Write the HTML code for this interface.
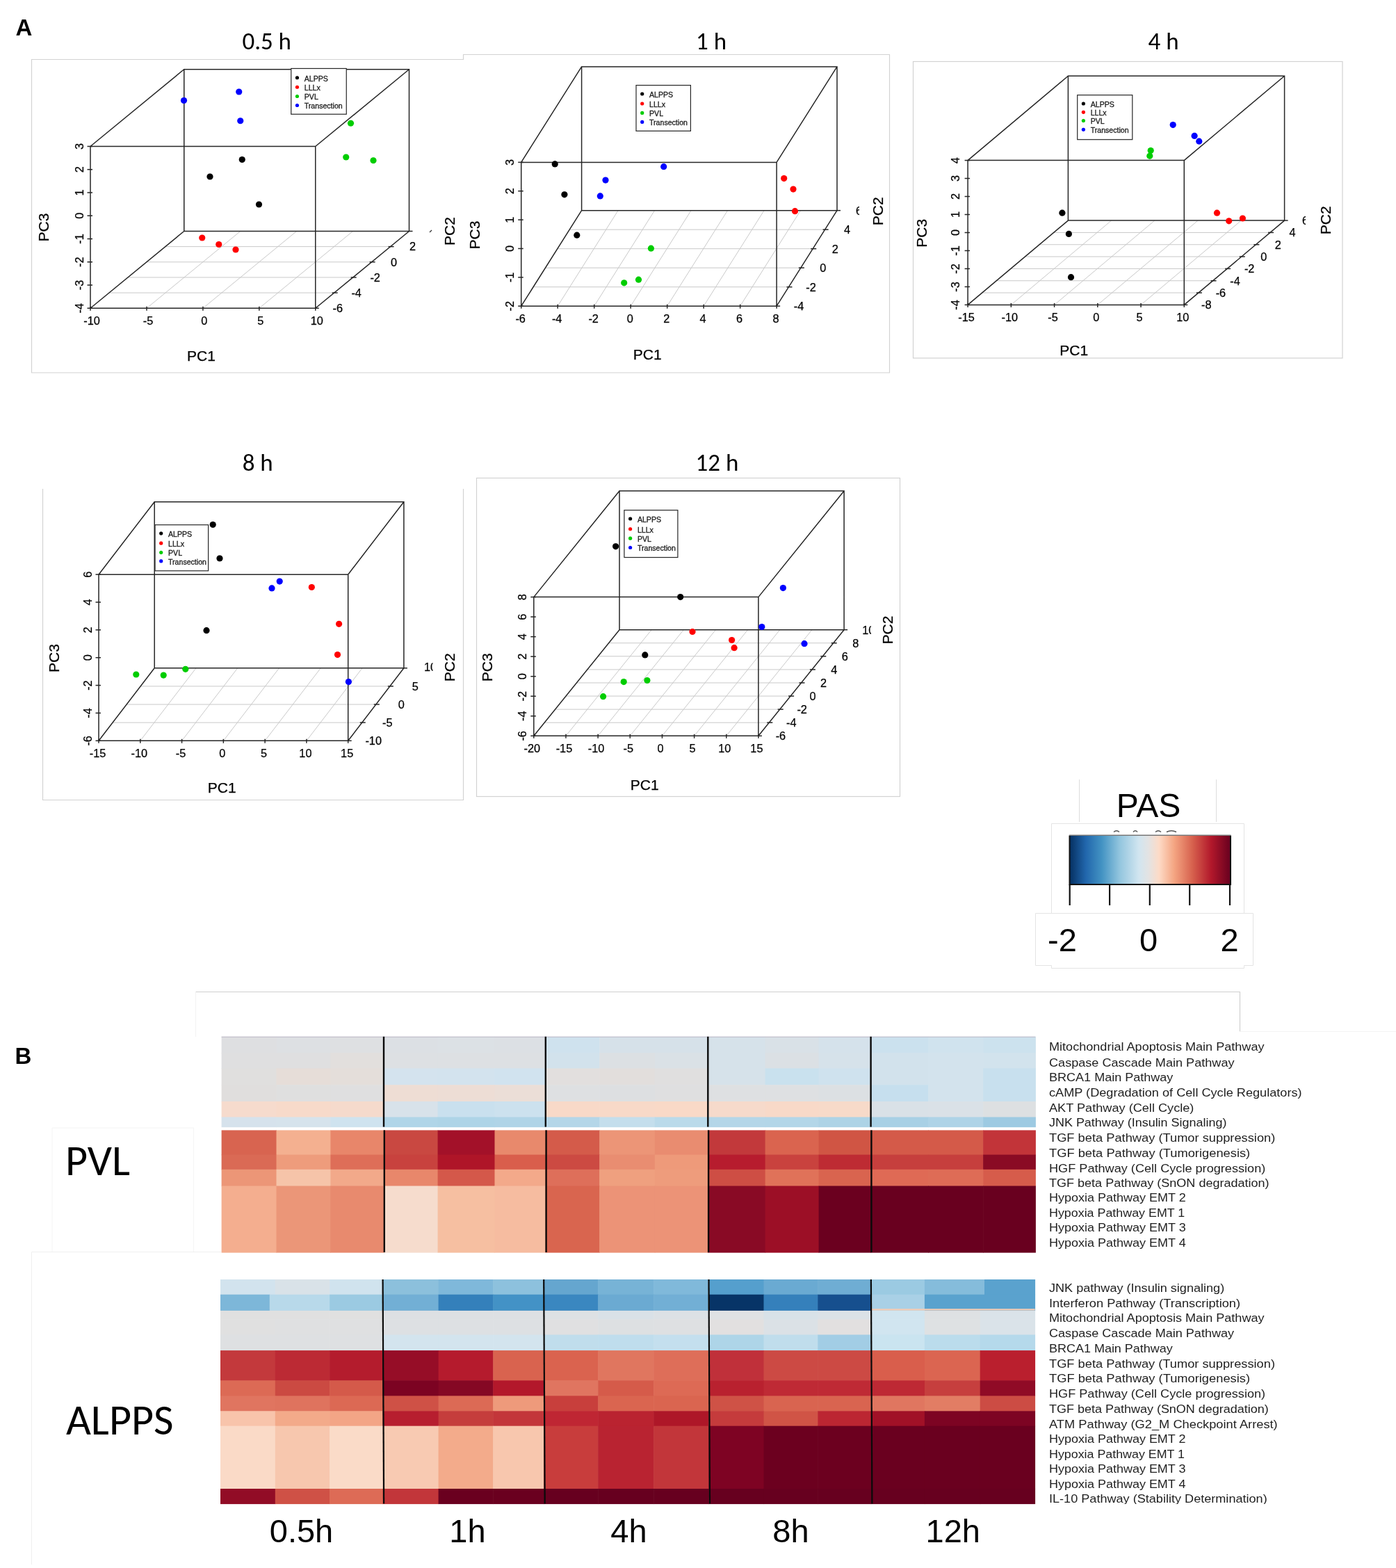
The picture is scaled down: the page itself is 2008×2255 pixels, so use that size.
<!DOCTYPE html><html><head><meta charset="utf-8"><title>Figure</title><style>html,body{margin:0;padding:0;background:#fff;overflow:hidden;}svg{display:block;}</style></head><body>
<svg width="2008" height="2255" viewBox="0 0 2008 2255">
<rect x="0" y="0" width="2008" height="2255" fill="#ffffff"/>
<path d="M45.5 536V85.5H666.5V78.5H1279.5V536Z" fill="#fff" stroke="#d2d2d2" stroke-width="1.2"/>
<rect x="1313.5" y="88.5" width="617.5" height="426.5" fill="#fff" stroke="#d2d2d2" stroke-width="1.2"/>
<path d="M61.5 703V1150.5H666.5V703" fill="#fff" stroke="#d2d2d2" stroke-width="1.2"/>
<rect x="685.5" y="687.5" width="609" height="458" fill="#fff" stroke="#d2d2d2" stroke-width="1.2"/>
<text x="348.4" y="70.5" font-size="35" font-family="Carlito, 'Liberation Sans', sans-serif" fill="#000" textLength="70.63" lengthAdjust="spacingAndGlyphs">0.5 h</text>
<text x="1001" y="70.5" font-size="35" font-family="Carlito, 'Liberation Sans', sans-serif" fill="#000" textLength="44.05" lengthAdjust="spacingAndGlyphs">1 h</text>
<text x="1651.6" y="70.5" font-size="35" font-family="Carlito, 'Liberation Sans', sans-serif" fill="#000" textLength="44.05" lengthAdjust="spacingAndGlyphs">4 h</text>
<text x="348.7" y="677.3" font-size="35" font-family="Carlito, 'Liberation Sans', sans-serif" fill="#000" textLength="44.05" lengthAdjust="spacingAndGlyphs">8 h</text>
<text x="1000.5" y="677.3" font-size="35" font-family="Carlito, 'Liberation Sans', sans-serif" fill="#000" textLength="61.78" lengthAdjust="spacingAndGlyphs">12 h</text>
<text x="22.5" y="51" font-size="33" font-family="'Liberation Sans', Arial, sans-serif" fill="#000" font-weight="bold">A</text>
<text x="21.5" y="1530" font-size="33" font-family="'Liberation Sans', Arial, sans-serif" fill="#000" font-weight="bold">B</text>
<line x1="156.95" y1="421.1" x2="480.7" y2="421.1" stroke="#c9c9c9" stroke-width="1"/>
<line x1="183.9" y1="398.95" x2="507.65" y2="398.95" stroke="#c9c9c9" stroke-width="1"/>
<line x1="210.85" y1="376.8" x2="534.6" y2="376.8" stroke="#c9c9c9" stroke-width="1"/>
<line x1="237.8" y1="354.65" x2="561.55" y2="354.65" stroke="#c9c9c9" stroke-width="1"/>
<line x1="211" y1="443.25" x2="345.75" y2="332.5" stroke="#c9c9c9" stroke-width="1"/>
<line x1="291.9" y1="443.25" x2="426.65" y2="332.5" stroke="#c9c9c9" stroke-width="1"/>
<line x1="372.8" y1="443.25" x2="507.55" y2="332.5" stroke="#c9c9c9" stroke-width="1"/>
<path d="M264.75 99.75H588.5V332.5H264.75Z M130 210.5H453.75V443.25H130Z M130 210.5L264.75 99.75 M453.75 210.5L588.5 99.75 M130 443.25L264.75 332.5 M453.75 443.25L588.5 332.5" fill="none" stroke="#262626" stroke-width="1.5"/>
<line x1="125.5" y1="210.5" x2="133" y2="210.5" stroke="#262626" stroke-width="1.5"/>
<text x="113.5" y="210.5" font-size="16.3" font-family="'Liberation Sans', Arial, sans-serif" fill="#000" text-anchor="middle" transform="rotate(-90 113.5 210.5)" dominant-baseline="central" stroke="#000" stroke-width="0.25">3</text>
<line x1="125.5" y1="243.75" x2="133" y2="243.75" stroke="#262626" stroke-width="1.5"/>
<text x="113.5" y="243.75" font-size="16.3" font-family="'Liberation Sans', Arial, sans-serif" fill="#000" text-anchor="middle" transform="rotate(-90 113.5 243.75)" dominant-baseline="central" stroke="#000" stroke-width="0.25">2</text>
<line x1="125.5" y1="277" x2="133" y2="277" stroke="#262626" stroke-width="1.5"/>
<text x="113.5" y="277" font-size="16.3" font-family="'Liberation Sans', Arial, sans-serif" fill="#000" text-anchor="middle" transform="rotate(-90 113.5 277)" dominant-baseline="central" stroke="#000" stroke-width="0.25">1</text>
<line x1="125.5" y1="310.25" x2="133" y2="310.25" stroke="#262626" stroke-width="1.5"/>
<text x="113.5" y="310.25" font-size="16.3" font-family="'Liberation Sans', Arial, sans-serif" fill="#000" text-anchor="middle" transform="rotate(-90 113.5 310.25)" dominant-baseline="central" stroke="#000" stroke-width="0.25">0</text>
<line x1="125.5" y1="343.5" x2="133" y2="343.5" stroke="#262626" stroke-width="1.5"/>
<text x="113.5" y="343.5" font-size="16.3" font-family="'Liberation Sans', Arial, sans-serif" fill="#000" text-anchor="middle" transform="rotate(-90 113.5 343.5)" dominant-baseline="central" stroke="#000" stroke-width="0.25">-1</text>
<line x1="125.5" y1="376.75" x2="133" y2="376.75" stroke="#262626" stroke-width="1.5"/>
<text x="113.5" y="376.75" font-size="16.3" font-family="'Liberation Sans', Arial, sans-serif" fill="#000" text-anchor="middle" transform="rotate(-90 113.5 376.75)" dominant-baseline="central" stroke="#000" stroke-width="0.25">-2</text>
<line x1="125.5" y1="410" x2="133" y2="410" stroke="#262626" stroke-width="1.5"/>
<text x="113.5" y="410" font-size="16.3" font-family="'Liberation Sans', Arial, sans-serif" fill="#000" text-anchor="middle" transform="rotate(-90 113.5 410)" dominant-baseline="central" stroke="#000" stroke-width="0.25">-3</text>
<line x1="125.5" y1="443.25" x2="133" y2="443.25" stroke="#262626" stroke-width="1.5"/>
<text x="113.5" y="443.25" font-size="16.3" font-family="'Liberation Sans', Arial, sans-serif" fill="#000" text-anchor="middle" transform="rotate(-90 113.5 443.25)" dominant-baseline="central" stroke="#000" stroke-width="0.25">-4</text>
<line x1="130" y1="440.75" x2="130" y2="446.75" stroke="#262626" stroke-width="1.5"/>
<text x="132" y="466.55" font-size="16.3" font-family="'Liberation Sans', Arial, sans-serif" fill="#000" text-anchor="middle" stroke="#000" stroke-width="0.25">-10</text>
<line x1="211" y1="440.75" x2="211" y2="446.75" stroke="#262626" stroke-width="1.5"/>
<text x="213" y="466.55" font-size="16.3" font-family="'Liberation Sans', Arial, sans-serif" fill="#000" text-anchor="middle" stroke="#000" stroke-width="0.25">-5</text>
<line x1="291.9" y1="440.75" x2="291.9" y2="446.75" stroke="#262626" stroke-width="1.5"/>
<text x="293.9" y="466.55" font-size="16.3" font-family="'Liberation Sans', Arial, sans-serif" fill="#000" text-anchor="middle" stroke="#000" stroke-width="0.25">0</text>
<line x1="372.8" y1="440.75" x2="372.8" y2="446.75" stroke="#262626" stroke-width="1.5"/>
<text x="374.8" y="466.55" font-size="16.3" font-family="'Liberation Sans', Arial, sans-serif" fill="#000" text-anchor="middle" stroke="#000" stroke-width="0.25">5</text>
<line x1="453.75" y1="440.75" x2="453.75" y2="446.75" stroke="#262626" stroke-width="1.5"/>
<text x="455.75" y="466.55" font-size="16.3" font-family="'Liberation Sans', Arial, sans-serif" fill="#000" text-anchor="middle" stroke="#000" stroke-width="0.25">10</text>
<line x1="453.75" y1="443.25" x2="458.75" y2="443.25" stroke="#262626" stroke-width="1.5"/>
<text x="485.75" y="449.05" font-size="16.3" font-family="'Liberation Sans', Arial, sans-serif" fill="#000" text-anchor="middle" stroke="#000" stroke-width="0.25">-6</text>
<line x1="477.7" y1="421.1" x2="485.7" y2="421.1" stroke="#262626" stroke-width="1.5"/>
<text x="512.7" y="426.9" font-size="16.3" font-family="'Liberation Sans', Arial, sans-serif" fill="#000" text-anchor="middle" stroke="#000" stroke-width="0.25">-4</text>
<line x1="504.65" y1="398.95" x2="512.65" y2="398.95" stroke="#262626" stroke-width="1.5"/>
<text x="539.65" y="404.75" font-size="16.3" font-family="'Liberation Sans', Arial, sans-serif" fill="#000" text-anchor="middle" stroke="#000" stroke-width="0.25">-2</text>
<line x1="531.6" y1="376.8" x2="539.6" y2="376.8" stroke="#262626" stroke-width="1.5"/>
<text x="566.6" y="382.6" font-size="16.3" font-family="'Liberation Sans', Arial, sans-serif" fill="#000" text-anchor="middle" stroke="#000" stroke-width="0.25">0</text>
<line x1="558.55" y1="354.65" x2="566.55" y2="354.65" stroke="#262626" stroke-width="1.5"/>
<text x="593.55" y="360.45" font-size="16.3" font-family="'Liberation Sans', Arial, sans-serif" fill="#000" text-anchor="middle" stroke="#000" stroke-width="0.25">2</text>
<line x1="588.5" y1="332.5" x2="593.5" y2="332.5" stroke="#262626" stroke-width="1.5"/>
<rect x="418.75" y="98.5" width="79.5" height="65.75" fill="#fff" stroke="#262626" stroke-width="1.2"/>
<circle cx="427.45" cy="111.75" r="2.6" fill="#000000"/>
<text x="437.75" y="116.55" font-size="10.6" font-family="'Liberation Sans', Arial, sans-serif" fill="#1a1a1a" stroke="#1a1a1a" stroke-width="0.3">ALPPS</text>
<circle cx="427.45" cy="125.25" r="2.6" fill="#FF0000"/>
<text x="437.75" y="130.05" font-size="10.6" font-family="'Liberation Sans', Arial, sans-serif" fill="#1a1a1a" stroke="#1a1a1a" stroke-width="0.3">LLLx</text>
<circle cx="427.45" cy="138.5" r="2.6" fill="#00CD00"/>
<text x="437.75" y="143.3" font-size="10.6" font-family="'Liberation Sans', Arial, sans-serif" fill="#1a1a1a" stroke="#1a1a1a" stroke-width="0.3">PVL</text>
<circle cx="427.45" cy="151.5" r="2.6" fill="#0000FF"/>
<text x="437.75" y="156.3" font-size="10.6" font-family="'Liberation Sans', Arial, sans-serif" fill="#1a1a1a" stroke="#1a1a1a" stroke-width="0.3">Transection</text>
<circle cx="264.5" cy="144.5" r="4.6" fill="#0000FF"/>
<circle cx="343.75" cy="132" r="4.6" fill="#0000FF"/>
<circle cx="345.75" cy="173.75" r="4.6" fill="#0000FF"/>
<circle cx="504.5" cy="177.25" r="4.6" fill="#00CD00"/>
<circle cx="497.75" cy="226" r="4.6" fill="#00CD00"/>
<circle cx="537" cy="230.75" r="4.6" fill="#00CD00"/>
<circle cx="348.25" cy="229.5" r="4.6" fill="#000000"/>
<circle cx="302" cy="254" r="4.6" fill="#000000"/>
<circle cx="372.5" cy="294" r="4.6" fill="#000000"/>
<circle cx="290.75" cy="342" r="4.6" fill="#FF0000"/>
<circle cx="314.75" cy="351.5" r="4.6" fill="#FF0000"/>
<circle cx="339" cy="359" r="4.6" fill="#FF0000"/>
<text x="289.4" y="518.75" font-size="21" font-family="'Liberation Sans', Arial, sans-serif" fill="#000" text-anchor="middle" stroke="#000" stroke-width="0.25">PC1</text>
<text x="646" y="332.5" font-size="21" font-family="'Liberation Sans', Arial, sans-serif" fill="#000" text-anchor="middle" transform="rotate(-90 646 332.5)" dominant-baseline="central" stroke="#000" stroke-width="0.25">PC2</text>
<text x="62.5" y="327" font-size="21" font-family="'Liberation Sans', Arial, sans-serif" fill="#000" text-anchor="middle" transform="rotate(-90 62.5 327)" dominant-baseline="central" stroke="#000" stroke-width="0.25">PC3</text>
<line x1="618" y1="334" x2="621" y2="331" stroke="#333" stroke-width="1.3"/>
<line x1="767.08" y1="412.7" x2="1134.48" y2="412.7" stroke="#c9c9c9" stroke-width="1"/>
<line x1="784.46" y1="385.2" x2="1151.86" y2="385.2" stroke="#c9c9c9" stroke-width="1"/>
<line x1="801.84" y1="357.7" x2="1169.24" y2="357.7" stroke="#c9c9c9" stroke-width="1"/>
<line x1="819.22" y1="330.2" x2="1186.62" y2="330.2" stroke="#c9c9c9" stroke-width="1"/>
<line x1="802.19" y1="440.2" x2="889.09" y2="302.7" stroke="#c9c9c9" stroke-width="1"/>
<line x1="854.68" y1="440.2" x2="941.58" y2="302.7" stroke="#c9c9c9" stroke-width="1"/>
<line x1="907.17" y1="440.2" x2="994.07" y2="302.7" stroke="#c9c9c9" stroke-width="1"/>
<line x1="959.66" y1="440.2" x2="1046.56" y2="302.7" stroke="#c9c9c9" stroke-width="1"/>
<line x1="1012.15" y1="440.2" x2="1099.05" y2="302.7" stroke="#c9c9c9" stroke-width="1"/>
<line x1="1064.64" y1="440.2" x2="1151.54" y2="302.7" stroke="#c9c9c9" stroke-width="1"/>
<path d="M836.6 95.9H1204V302.7H836.6Z M749.7 233.4H1117.1V440.2H749.7Z M749.7 233.4L836.6 95.9 M1117.1 233.4L1204 95.9 M749.7 440.2L836.6 302.7 M1117.1 440.2L1204 302.7" fill="none" stroke="#262626" stroke-width="1.5"/>
<line x1="745.2" y1="233.4" x2="752.7" y2="233.4" stroke="#262626" stroke-width="1.5"/>
<text x="732.7" y="233.4" font-size="16.3" font-family="'Liberation Sans', Arial, sans-serif" fill="#000" text-anchor="middle" transform="rotate(-90 732.7 233.4)" dominant-baseline="central" stroke="#000" stroke-width="0.25">3</text>
<line x1="745.2" y1="274.76" x2="752.7" y2="274.76" stroke="#262626" stroke-width="1.5"/>
<text x="732.7" y="274.76" font-size="16.3" font-family="'Liberation Sans', Arial, sans-serif" fill="#000" text-anchor="middle" transform="rotate(-90 732.7 274.76)" dominant-baseline="central" stroke="#000" stroke-width="0.25">2</text>
<line x1="745.2" y1="316.12" x2="752.7" y2="316.12" stroke="#262626" stroke-width="1.5"/>
<text x="732.7" y="316.12" font-size="16.3" font-family="'Liberation Sans', Arial, sans-serif" fill="#000" text-anchor="middle" transform="rotate(-90 732.7 316.12)" dominant-baseline="central" stroke="#000" stroke-width="0.25">1</text>
<line x1="745.2" y1="357.48" x2="752.7" y2="357.48" stroke="#262626" stroke-width="1.5"/>
<text x="732.7" y="357.48" font-size="16.3" font-family="'Liberation Sans', Arial, sans-serif" fill="#000" text-anchor="middle" transform="rotate(-90 732.7 357.48)" dominant-baseline="central" stroke="#000" stroke-width="0.25">0</text>
<line x1="745.2" y1="398.84" x2="752.7" y2="398.84" stroke="#262626" stroke-width="1.5"/>
<text x="732.7" y="398.84" font-size="16.3" font-family="'Liberation Sans', Arial, sans-serif" fill="#000" text-anchor="middle" transform="rotate(-90 732.7 398.84)" dominant-baseline="central" stroke="#000" stroke-width="0.25">-1</text>
<line x1="745.2" y1="440.2" x2="752.7" y2="440.2" stroke="#262626" stroke-width="1.5"/>
<text x="732.7" y="440.2" font-size="16.3" font-family="'Liberation Sans', Arial, sans-serif" fill="#000" text-anchor="middle" transform="rotate(-90 732.7 440.2)" dominant-baseline="central" stroke="#000" stroke-width="0.25">-2</text>
<line x1="749.7" y1="437.7" x2="749.7" y2="443.7" stroke="#262626" stroke-width="1.5"/>
<text x="748.7" y="463.5" font-size="16.3" font-family="'Liberation Sans', Arial, sans-serif" fill="#000" text-anchor="middle" stroke="#000" stroke-width="0.25">-6</text>
<line x1="802.19" y1="437.7" x2="802.19" y2="443.7" stroke="#262626" stroke-width="1.5"/>
<text x="801.19" y="463.5" font-size="16.3" font-family="'Liberation Sans', Arial, sans-serif" fill="#000" text-anchor="middle" stroke="#000" stroke-width="0.25">-4</text>
<line x1="854.68" y1="437.7" x2="854.68" y2="443.7" stroke="#262626" stroke-width="1.5"/>
<text x="853.68" y="463.5" font-size="16.3" font-family="'Liberation Sans', Arial, sans-serif" fill="#000" text-anchor="middle" stroke="#000" stroke-width="0.25">-2</text>
<line x1="907.17" y1="437.7" x2="907.17" y2="443.7" stroke="#262626" stroke-width="1.5"/>
<text x="906.17" y="463.5" font-size="16.3" font-family="'Liberation Sans', Arial, sans-serif" fill="#000" text-anchor="middle" stroke="#000" stroke-width="0.25">0</text>
<line x1="959.66" y1="437.7" x2="959.66" y2="443.7" stroke="#262626" stroke-width="1.5"/>
<text x="958.66" y="463.5" font-size="16.3" font-family="'Liberation Sans', Arial, sans-serif" fill="#000" text-anchor="middle" stroke="#000" stroke-width="0.25">2</text>
<line x1="1012.15" y1="437.7" x2="1012.15" y2="443.7" stroke="#262626" stroke-width="1.5"/>
<text x="1011.15" y="463.5" font-size="16.3" font-family="'Liberation Sans', Arial, sans-serif" fill="#000" text-anchor="middle" stroke="#000" stroke-width="0.25">4</text>
<line x1="1064.64" y1="437.7" x2="1064.64" y2="443.7" stroke="#262626" stroke-width="1.5"/>
<text x="1063.64" y="463.5" font-size="16.3" font-family="'Liberation Sans', Arial, sans-serif" fill="#000" text-anchor="middle" stroke="#000" stroke-width="0.25">6</text>
<line x1="1117.13" y1="437.7" x2="1117.13" y2="443.7" stroke="#262626" stroke-width="1.5"/>
<text x="1116.13" y="463.5" font-size="16.3" font-family="'Liberation Sans', Arial, sans-serif" fill="#000" text-anchor="middle" stroke="#000" stroke-width="0.25">8</text>
<line x1="1117.1" y1="440.2" x2="1122.1" y2="440.2" stroke="#262626" stroke-width="1.5"/>
<text x="1149.1" y="446" font-size="16.3" font-family="'Liberation Sans', Arial, sans-serif" fill="#000" text-anchor="middle" stroke="#000" stroke-width="0.25">-4</text>
<line x1="1131.48" y1="412.7" x2="1139.48" y2="412.7" stroke="#262626" stroke-width="1.5"/>
<text x="1166.48" y="418.5" font-size="16.3" font-family="'Liberation Sans', Arial, sans-serif" fill="#000" text-anchor="middle" stroke="#000" stroke-width="0.25">-2</text>
<line x1="1148.86" y1="385.2" x2="1156.86" y2="385.2" stroke="#262626" stroke-width="1.5"/>
<text x="1183.86" y="391" font-size="16.3" font-family="'Liberation Sans', Arial, sans-serif" fill="#000" text-anchor="middle" stroke="#000" stroke-width="0.25">0</text>
<line x1="1166.24" y1="357.7" x2="1174.24" y2="357.7" stroke="#262626" stroke-width="1.5"/>
<text x="1201.24" y="363.5" font-size="16.3" font-family="'Liberation Sans', Arial, sans-serif" fill="#000" text-anchor="middle" stroke="#000" stroke-width="0.25">2</text>
<line x1="1183.62" y1="330.2" x2="1191.62" y2="330.2" stroke="#262626" stroke-width="1.5"/>
<text x="1218.62" y="336" font-size="16.3" font-family="'Liberation Sans', Arial, sans-serif" fill="#000" text-anchor="middle" stroke="#000" stroke-width="0.25">4</text>
<line x1="1204" y1="302.7" x2="1209" y2="302.7" stroke="#262626" stroke-width="1.5"/>
<rect x="915" y="122.6" width="78.4" height="65.8" fill="#fff" stroke="#262626" stroke-width="1.2"/>
<circle cx="923.7" cy="135" r="2.6" fill="#000000"/>
<text x="934" y="139.8" font-size="10.6" font-family="'Liberation Sans', Arial, sans-serif" fill="#1a1a1a" stroke="#1a1a1a" stroke-width="0.3">ALPPS</text>
<circle cx="923.7" cy="149" r="2.6" fill="#FF0000"/>
<text x="934" y="153.8" font-size="10.6" font-family="'Liberation Sans', Arial, sans-serif" fill="#1a1a1a" stroke="#1a1a1a" stroke-width="0.3">LLLx</text>
<circle cx="923.7" cy="162.4" r="2.6" fill="#00CD00"/>
<text x="934" y="167.2" font-size="10.6" font-family="'Liberation Sans', Arial, sans-serif" fill="#1a1a1a" stroke="#1a1a1a" stroke-width="0.3">PVL</text>
<circle cx="923.7" cy="175.4" r="2.6" fill="#0000FF"/>
<text x="934" y="180.2" font-size="10.6" font-family="'Liberation Sans', Arial, sans-serif" fill="#1a1a1a" stroke="#1a1a1a" stroke-width="0.3">Transection</text>
<circle cx="798.2" cy="235.9" r="4.6" fill="#000000"/>
<circle cx="811.9" cy="279.8" r="4.6" fill="#000000"/>
<circle cx="829.8" cy="338.2" r="4.6" fill="#000000"/>
<circle cx="871" cy="259.1" r="4.6" fill="#0000FF"/>
<circle cx="863.3" cy="281.9" r="4.6" fill="#0000FF"/>
<circle cx="954.7" cy="239.7" r="4.6" fill="#0000FF"/>
<circle cx="1127.7" cy="256.6" r="4.6" fill="#FF0000"/>
<circle cx="1141" cy="272.1" r="4.6" fill="#FF0000"/>
<circle cx="1143.5" cy="303.7" r="4.6" fill="#FF0000"/>
<circle cx="936.4" cy="357.2" r="4.6" fill="#00CD00"/>
<circle cx="918.5" cy="402.2" r="4.6" fill="#00CD00"/>
<circle cx="897.7" cy="406.8" r="4.6" fill="#00CD00"/>
<text x="931.2" y="516.5" font-size="21" font-family="'Liberation Sans', Arial, sans-serif" fill="#000" text-anchor="middle" stroke="#000" stroke-width="0.25">PC1</text>
<text x="1263" y="303.7" font-size="21" font-family="'Liberation Sans', Arial, sans-serif" fill="#000" text-anchor="middle" transform="rotate(-90 1263 303.7)" dominant-baseline="central" stroke="#000" stroke-width="0.25">PC2</text>
<text x="682.8" y="338" font-size="21" font-family="'Liberation Sans', Arial, sans-serif" fill="#000" text-anchor="middle" transform="rotate(-90 682.8 338)" dominant-baseline="central" stroke="#000" stroke-width="0.25">PC3</text>
<clipPath id="c6a"><rect x="1228" y="290" width="8" height="25"/></clipPath>
<text x="1231" y="308.5" font-size="16.3" font-family="'Liberation Sans', Arial, sans-serif" fill="#000" clip-path="url(#c6a)" stroke="#000" stroke-width="0.25">6</text>
<line x1="1412.71" y1="421.07" x2="1723.91" y2="421.07" stroke="#c9c9c9" stroke-width="1"/>
<line x1="1433.33" y1="403.74" x2="1744.53" y2="403.74" stroke="#c9c9c9" stroke-width="1"/>
<line x1="1453.94" y1="386.41" x2="1765.14" y2="386.41" stroke="#c9c9c9" stroke-width="1"/>
<line x1="1474.56" y1="369.09" x2="1785.76" y2="369.09" stroke="#c9c9c9" stroke-width="1"/>
<line x1="1495.17" y1="351.76" x2="1806.37" y2="351.76" stroke="#c9c9c9" stroke-width="1"/>
<line x1="1515.79" y1="334.43" x2="1826.99" y2="334.43" stroke="#c9c9c9" stroke-width="1"/>
<line x1="1454.34" y1="438.4" x2="1598.64" y2="317.1" stroke="#c9c9c9" stroke-width="1"/>
<line x1="1516.58" y1="438.4" x2="1660.88" y2="317.1" stroke="#c9c9c9" stroke-width="1"/>
<line x1="1578.82" y1="438.4" x2="1723.12" y2="317.1" stroke="#c9c9c9" stroke-width="1"/>
<line x1="1641.06" y1="438.4" x2="1785.36" y2="317.1" stroke="#c9c9c9" stroke-width="1"/>
<path d="M1536.4 109.3H1847.6V317.1H1536.4Z M1392.1 230.6H1703.3V438.4H1392.1Z M1392.1 230.6L1536.4 109.3 M1703.3 230.6L1847.6 109.3 M1392.1 438.4L1536.4 317.1 M1703.3 438.4L1847.6 317.1" fill="none" stroke="#262626" stroke-width="1.5"/>
<line x1="1387.6" y1="230.6" x2="1395.1" y2="230.6" stroke="#262626" stroke-width="1.5"/>
<text x="1373.6" y="230.6" font-size="16.3" font-family="'Liberation Sans', Arial, sans-serif" fill="#000" text-anchor="middle" transform="rotate(-90 1373.6 230.6)" dominant-baseline="central" stroke="#000" stroke-width="0.25">4</text>
<line x1="1387.6" y1="256.57" x2="1395.1" y2="256.57" stroke="#262626" stroke-width="1.5"/>
<text x="1373.6" y="256.57" font-size="16.3" font-family="'Liberation Sans', Arial, sans-serif" fill="#000" text-anchor="middle" transform="rotate(-90 1373.6 256.57)" dominant-baseline="central" stroke="#000" stroke-width="0.25">3</text>
<line x1="1387.6" y1="282.55" x2="1395.1" y2="282.55" stroke="#262626" stroke-width="1.5"/>
<text x="1373.6" y="282.55" font-size="16.3" font-family="'Liberation Sans', Arial, sans-serif" fill="#000" text-anchor="middle" transform="rotate(-90 1373.6 282.55)" dominant-baseline="central" stroke="#000" stroke-width="0.25">2</text>
<line x1="1387.6" y1="308.52" x2="1395.1" y2="308.52" stroke="#262626" stroke-width="1.5"/>
<text x="1373.6" y="308.52" font-size="16.3" font-family="'Liberation Sans', Arial, sans-serif" fill="#000" text-anchor="middle" transform="rotate(-90 1373.6 308.52)" dominant-baseline="central" stroke="#000" stroke-width="0.25">1</text>
<line x1="1387.6" y1="334.5" x2="1395.1" y2="334.5" stroke="#262626" stroke-width="1.5"/>
<text x="1373.6" y="334.5" font-size="16.3" font-family="'Liberation Sans', Arial, sans-serif" fill="#000" text-anchor="middle" transform="rotate(-90 1373.6 334.5)" dominant-baseline="central" stroke="#000" stroke-width="0.25">0</text>
<line x1="1387.6" y1="360.48" x2="1395.1" y2="360.48" stroke="#262626" stroke-width="1.5"/>
<text x="1373.6" y="360.48" font-size="16.3" font-family="'Liberation Sans', Arial, sans-serif" fill="#000" text-anchor="middle" transform="rotate(-90 1373.6 360.48)" dominant-baseline="central" stroke="#000" stroke-width="0.25">-1</text>
<line x1="1387.6" y1="386.45" x2="1395.1" y2="386.45" stroke="#262626" stroke-width="1.5"/>
<text x="1373.6" y="386.45" font-size="16.3" font-family="'Liberation Sans', Arial, sans-serif" fill="#000" text-anchor="middle" transform="rotate(-90 1373.6 386.45)" dominant-baseline="central" stroke="#000" stroke-width="0.25">-2</text>
<line x1="1387.6" y1="412.43" x2="1395.1" y2="412.43" stroke="#262626" stroke-width="1.5"/>
<text x="1373.6" y="412.43" font-size="16.3" font-family="'Liberation Sans', Arial, sans-serif" fill="#000" text-anchor="middle" transform="rotate(-90 1373.6 412.43)" dominant-baseline="central" stroke="#000" stroke-width="0.25">-3</text>
<line x1="1387.6" y1="438.4" x2="1395.1" y2="438.4" stroke="#262626" stroke-width="1.5"/>
<text x="1373.6" y="438.4" font-size="16.3" font-family="'Liberation Sans', Arial, sans-serif" fill="#000" text-anchor="middle" transform="rotate(-90 1373.6 438.4)" dominant-baseline="central" stroke="#000" stroke-width="0.25">-4</text>
<line x1="1392.1" y1="435.9" x2="1392.1" y2="441.9" stroke="#262626" stroke-width="1.5"/>
<text x="1390.1" y="461.7" font-size="16.3" font-family="'Liberation Sans', Arial, sans-serif" fill="#000" text-anchor="middle" stroke="#000" stroke-width="0.25">-15</text>
<line x1="1454.34" y1="435.9" x2="1454.34" y2="441.9" stroke="#262626" stroke-width="1.5"/>
<text x="1452.34" y="461.7" font-size="16.3" font-family="'Liberation Sans', Arial, sans-serif" fill="#000" text-anchor="middle" stroke="#000" stroke-width="0.25">-10</text>
<line x1="1516.58" y1="435.9" x2="1516.58" y2="441.9" stroke="#262626" stroke-width="1.5"/>
<text x="1514.58" y="461.7" font-size="16.3" font-family="'Liberation Sans', Arial, sans-serif" fill="#000" text-anchor="middle" stroke="#000" stroke-width="0.25">-5</text>
<line x1="1578.82" y1="435.9" x2="1578.82" y2="441.9" stroke="#262626" stroke-width="1.5"/>
<text x="1576.82" y="461.7" font-size="16.3" font-family="'Liberation Sans', Arial, sans-serif" fill="#000" text-anchor="middle" stroke="#000" stroke-width="0.25">0</text>
<line x1="1641.06" y1="435.9" x2="1641.06" y2="441.9" stroke="#262626" stroke-width="1.5"/>
<text x="1639.06" y="461.7" font-size="16.3" font-family="'Liberation Sans', Arial, sans-serif" fill="#000" text-anchor="middle" stroke="#000" stroke-width="0.25">5</text>
<line x1="1703.3" y1="435.9" x2="1703.3" y2="441.9" stroke="#262626" stroke-width="1.5"/>
<text x="1701.3" y="461.7" font-size="16.3" font-family="'Liberation Sans', Arial, sans-serif" fill="#000" text-anchor="middle" stroke="#000" stroke-width="0.25">10</text>
<line x1="1703.3" y1="438.4" x2="1708.3" y2="438.4" stroke="#262626" stroke-width="1.5"/>
<text x="1735.3" y="444.2" font-size="16.3" font-family="'Liberation Sans', Arial, sans-serif" fill="#000" text-anchor="middle" stroke="#000" stroke-width="0.25">-8</text>
<line x1="1720.91" y1="421.07" x2="1728.91" y2="421.07" stroke="#262626" stroke-width="1.5"/>
<text x="1755.91" y="426.87" font-size="16.3" font-family="'Liberation Sans', Arial, sans-serif" fill="#000" text-anchor="middle" stroke="#000" stroke-width="0.25">-6</text>
<line x1="1741.53" y1="403.74" x2="1749.53" y2="403.74" stroke="#262626" stroke-width="1.5"/>
<text x="1776.53" y="409.54" font-size="16.3" font-family="'Liberation Sans', Arial, sans-serif" fill="#000" text-anchor="middle" stroke="#000" stroke-width="0.25">-4</text>
<line x1="1762.14" y1="386.41" x2="1770.14" y2="386.41" stroke="#262626" stroke-width="1.5"/>
<text x="1797.14" y="392.21" font-size="16.3" font-family="'Liberation Sans', Arial, sans-serif" fill="#000" text-anchor="middle" stroke="#000" stroke-width="0.25">-2</text>
<line x1="1782.76" y1="369.09" x2="1790.76" y2="369.09" stroke="#262626" stroke-width="1.5"/>
<text x="1817.76" y="374.89" font-size="16.3" font-family="'Liberation Sans', Arial, sans-serif" fill="#000" text-anchor="middle" stroke="#000" stroke-width="0.25">0</text>
<line x1="1803.37" y1="351.76" x2="1811.37" y2="351.76" stroke="#262626" stroke-width="1.5"/>
<text x="1838.37" y="357.56" font-size="16.3" font-family="'Liberation Sans', Arial, sans-serif" fill="#000" text-anchor="middle" stroke="#000" stroke-width="0.25">2</text>
<line x1="1823.99" y1="334.43" x2="1831.99" y2="334.43" stroke="#262626" stroke-width="1.5"/>
<text x="1858.99" y="340.23" font-size="16.3" font-family="'Liberation Sans', Arial, sans-serif" fill="#000" text-anchor="middle" stroke="#000" stroke-width="0.25">4</text>
<line x1="1847.6" y1="317.1" x2="1852.6" y2="317.1" stroke="#262626" stroke-width="1.5"/>
<rect x="1549.7" y="136.7" width="79.1" height="64" fill="#fff" stroke="#262626" stroke-width="1.2"/>
<circle cx="1558.4" cy="149" r="2.6" fill="#000000"/>
<text x="1568.7" y="153.8" font-size="10.6" font-family="'Liberation Sans', Arial, sans-serif" fill="#1a1a1a" stroke="#1a1a1a" stroke-width="0.3">ALPPS</text>
<circle cx="1558.4" cy="161.3" r="2.6" fill="#FF0000"/>
<text x="1568.7" y="166.1" font-size="10.6" font-family="'Liberation Sans', Arial, sans-serif" fill="#1a1a1a" stroke="#1a1a1a" stroke-width="0.3">LLLx</text>
<circle cx="1558.4" cy="173.6" r="2.6" fill="#00CD00"/>
<text x="1568.7" y="178.4" font-size="10.6" font-family="'Liberation Sans', Arial, sans-serif" fill="#1a1a1a" stroke="#1a1a1a" stroke-width="0.3">PVL</text>
<circle cx="1558.4" cy="186.3" r="2.6" fill="#0000FF"/>
<text x="1568.7" y="191.1" font-size="10.6" font-family="'Liberation Sans', Arial, sans-serif" fill="#1a1a1a" stroke="#1a1a1a" stroke-width="0.3">Transection</text>
<circle cx="1527.9" cy="306.2" r="4.6" fill="#000000"/>
<circle cx="1537.4" cy="336.4" r="4.6" fill="#000000"/>
<circle cx="1540.5" cy="398.7" r="4.6" fill="#000000"/>
<circle cx="1655.2" cy="216.5" r="4.6" fill="#00CD00"/>
<circle cx="1653.8" cy="224.3" r="4.6" fill="#00CD00"/>
<circle cx="1687.2" cy="179.6" r="4.6" fill="#0000FF"/>
<circle cx="1718.1" cy="195.4" r="4.6" fill="#0000FF"/>
<circle cx="1724.8" cy="203.2" r="4.6" fill="#0000FF"/>
<circle cx="1750.5" cy="306.2" r="4.6" fill="#FF0000"/>
<circle cx="1767.7" cy="317.8" r="4.6" fill="#FF0000"/>
<circle cx="1787.4" cy="314" r="4.6" fill="#FF0000"/>
<text x="1544.8" y="511.2" font-size="21" font-family="'Liberation Sans', Arial, sans-serif" fill="#000" text-anchor="middle" stroke="#000" stroke-width="0.25">PC1</text>
<text x="1906.6" y="316.8" font-size="21" font-family="'Liberation Sans', Arial, sans-serif" fill="#000" text-anchor="middle" transform="rotate(-90 1906.6 316.8)" dominant-baseline="central" stroke="#000" stroke-width="0.25">PC2</text>
<text x="1325.5" y="335.3" font-size="21" font-family="'Liberation Sans', Arial, sans-serif" fill="#000" text-anchor="middle" transform="rotate(-90 1325.5 335.3)" dominant-baseline="central" stroke="#000" stroke-width="0.25">PC3</text>
<clipPath id="c6b"><rect x="1870" y="305" width="8" height="25"/></clipPath>
<text x="1873" y="323" font-size="16.3" font-family="'Liberation Sans', Arial, sans-serif" fill="#000" clip-path="url(#c6b)" stroke="#000" stroke-width="0.25">6</text>
<line x1="162.05" y1="1039.17" x2="520.75" y2="1039.17" stroke="#c9c9c9" stroke-width="1"/>
<line x1="182.1" y1="1013.05" x2="540.8" y2="1013.05" stroke="#c9c9c9" stroke-width="1"/>
<line x1="202.15" y1="986.92" x2="560.85" y2="986.92" stroke="#c9c9c9" stroke-width="1"/>
<line x1="201.78" y1="1065.3" x2="281.98" y2="960.8" stroke="#c9c9c9" stroke-width="1"/>
<line x1="261.56" y1="1065.3" x2="341.76" y2="960.8" stroke="#c9c9c9" stroke-width="1"/>
<line x1="321.34" y1="1065.3" x2="401.54" y2="960.8" stroke="#c9c9c9" stroke-width="1"/>
<line x1="381.12" y1="1065.3" x2="461.32" y2="960.8" stroke="#c9c9c9" stroke-width="1"/>
<line x1="440.9" y1="1065.3" x2="521.1" y2="960.8" stroke="#c9c9c9" stroke-width="1"/>
<path d="M222.2 721.7H580.9V960.8H222.2Z M142 826.2H500.7V1065.3H142Z M142 826.2L222.2 721.7 M500.7 826.2L580.9 721.7 M142 1065.3L222.2 960.8 M500.7 1065.3L580.9 960.8" fill="none" stroke="#262626" stroke-width="1.5"/>
<line x1="137.5" y1="826.2" x2="145" y2="826.2" stroke="#262626" stroke-width="1.5"/>
<text x="126" y="826.2" font-size="16.3" font-family="'Liberation Sans', Arial, sans-serif" fill="#000" text-anchor="middle" transform="rotate(-90 126 826.2)" dominant-baseline="central" stroke="#000" stroke-width="0.25">6</text>
<line x1="137.5" y1="866.05" x2="145" y2="866.05" stroke="#262626" stroke-width="1.5"/>
<text x="126" y="866.05" font-size="16.3" font-family="'Liberation Sans', Arial, sans-serif" fill="#000" text-anchor="middle" transform="rotate(-90 126 866.05)" dominant-baseline="central" stroke="#000" stroke-width="0.25">4</text>
<line x1="137.5" y1="905.9" x2="145" y2="905.9" stroke="#262626" stroke-width="1.5"/>
<text x="126" y="905.9" font-size="16.3" font-family="'Liberation Sans', Arial, sans-serif" fill="#000" text-anchor="middle" transform="rotate(-90 126 905.9)" dominant-baseline="central" stroke="#000" stroke-width="0.25">2</text>
<line x1="137.5" y1="945.75" x2="145" y2="945.75" stroke="#262626" stroke-width="1.5"/>
<text x="126" y="945.75" font-size="16.3" font-family="'Liberation Sans', Arial, sans-serif" fill="#000" text-anchor="middle" transform="rotate(-90 126 945.75)" dominant-baseline="central" stroke="#000" stroke-width="0.25">0</text>
<line x1="137.5" y1="985.6" x2="145" y2="985.6" stroke="#262626" stroke-width="1.5"/>
<text x="126" y="985.6" font-size="16.3" font-family="'Liberation Sans', Arial, sans-serif" fill="#000" text-anchor="middle" transform="rotate(-90 126 985.6)" dominant-baseline="central" stroke="#000" stroke-width="0.25">-2</text>
<line x1="137.5" y1="1025.45" x2="145" y2="1025.45" stroke="#262626" stroke-width="1.5"/>
<text x="126" y="1025.45" font-size="16.3" font-family="'Liberation Sans', Arial, sans-serif" fill="#000" text-anchor="middle" transform="rotate(-90 126 1025.45)" dominant-baseline="central" stroke="#000" stroke-width="0.25">-4</text>
<line x1="137.5" y1="1065.3" x2="145" y2="1065.3" stroke="#262626" stroke-width="1.5"/>
<text x="126" y="1065.3" font-size="16.3" font-family="'Liberation Sans', Arial, sans-serif" fill="#000" text-anchor="middle" transform="rotate(-90 126 1065.3)" dominant-baseline="central" stroke="#000" stroke-width="0.25">-6</text>
<line x1="142" y1="1062.8" x2="142" y2="1068.8" stroke="#262626" stroke-width="1.5"/>
<text x="140.5" y="1088.6" font-size="16.3" font-family="'Liberation Sans', Arial, sans-serif" fill="#000" text-anchor="middle" stroke="#000" stroke-width="0.25">-15</text>
<line x1="201.78" y1="1062.8" x2="201.78" y2="1068.8" stroke="#262626" stroke-width="1.5"/>
<text x="200.28" y="1088.6" font-size="16.3" font-family="'Liberation Sans', Arial, sans-serif" fill="#000" text-anchor="middle" stroke="#000" stroke-width="0.25">-10</text>
<line x1="261.56" y1="1062.8" x2="261.56" y2="1068.8" stroke="#262626" stroke-width="1.5"/>
<text x="260.06" y="1088.6" font-size="16.3" font-family="'Liberation Sans', Arial, sans-serif" fill="#000" text-anchor="middle" stroke="#000" stroke-width="0.25">-5</text>
<line x1="321.34" y1="1062.8" x2="321.34" y2="1068.8" stroke="#262626" stroke-width="1.5"/>
<text x="319.84" y="1088.6" font-size="16.3" font-family="'Liberation Sans', Arial, sans-serif" fill="#000" text-anchor="middle" stroke="#000" stroke-width="0.25">0</text>
<line x1="381.12" y1="1062.8" x2="381.12" y2="1068.8" stroke="#262626" stroke-width="1.5"/>
<text x="379.62" y="1088.6" font-size="16.3" font-family="'Liberation Sans', Arial, sans-serif" fill="#000" text-anchor="middle" stroke="#000" stroke-width="0.25">5</text>
<line x1="440.9" y1="1062.8" x2="440.9" y2="1068.8" stroke="#262626" stroke-width="1.5"/>
<text x="439.4" y="1088.6" font-size="16.3" font-family="'Liberation Sans', Arial, sans-serif" fill="#000" text-anchor="middle" stroke="#000" stroke-width="0.25">10</text>
<line x1="500.68" y1="1062.8" x2="500.68" y2="1068.8" stroke="#262626" stroke-width="1.5"/>
<text x="499.18" y="1088.6" font-size="16.3" font-family="'Liberation Sans', Arial, sans-serif" fill="#000" text-anchor="middle" stroke="#000" stroke-width="0.25">15</text>
<line x1="500.7" y1="1065.3" x2="505.7" y2="1065.3" stroke="#262626" stroke-width="1.5"/>
<text x="537.2" y="1071.1" font-size="16.3" font-family="'Liberation Sans', Arial, sans-serif" fill="#000" text-anchor="middle" stroke="#000" stroke-width="0.25">-10</text>
<line x1="517.75" y1="1039.17" x2="525.75" y2="1039.17" stroke="#262626" stroke-width="1.5"/>
<text x="557.25" y="1044.97" font-size="16.3" font-family="'Liberation Sans', Arial, sans-serif" fill="#000" text-anchor="middle" stroke="#000" stroke-width="0.25">-5</text>
<line x1="537.8" y1="1013.05" x2="545.8" y2="1013.05" stroke="#262626" stroke-width="1.5"/>
<text x="577.3" y="1018.85" font-size="16.3" font-family="'Liberation Sans', Arial, sans-serif" fill="#000" text-anchor="middle" stroke="#000" stroke-width="0.25">0</text>
<line x1="557.85" y1="986.92" x2="565.85" y2="986.92" stroke="#262626" stroke-width="1.5"/>
<text x="597.35" y="992.72" font-size="16.3" font-family="'Liberation Sans', Arial, sans-serif" fill="#000" text-anchor="middle" stroke="#000" stroke-width="0.25">5</text>
<line x1="580.9" y1="960.8" x2="585.9" y2="960.8" stroke="#262626" stroke-width="1.5"/>
<rect x="223" y="754.8" width="76.6" height="66.1" fill="#fff" stroke="#262626" stroke-width="1.2"/>
<circle cx="231.7" cy="767.1" r="2.6" fill="#000000"/>
<text x="242" y="771.9" font-size="10.6" font-family="'Liberation Sans', Arial, sans-serif" fill="#1a1a1a" stroke="#1a1a1a" stroke-width="0.3">ALPPS</text>
<circle cx="231.7" cy="781.2" r="2.6" fill="#FF0000"/>
<text x="242" y="786" font-size="10.6" font-family="'Liberation Sans', Arial, sans-serif" fill="#1a1a1a" stroke="#1a1a1a" stroke-width="0.3">LLLx</text>
<circle cx="231.7" cy="794.6" r="2.6" fill="#00CD00"/>
<text x="242" y="799.4" font-size="10.6" font-family="'Liberation Sans', Arial, sans-serif" fill="#1a1a1a" stroke="#1a1a1a" stroke-width="0.3">PVL</text>
<circle cx="231.7" cy="806.9" r="2.6" fill="#0000FF"/>
<text x="242" y="811.7" font-size="10.6" font-family="'Liberation Sans', Arial, sans-serif" fill="#1a1a1a" stroke="#1a1a1a" stroke-width="0.3">Transection</text>
<circle cx="306.2" cy="754.5" r="4.6" fill="#000000"/>
<circle cx="316" cy="803" r="4.6" fill="#000000"/>
<circle cx="297" cy="906.7" r="4.6" fill="#000000"/>
<circle cx="402.2" cy="836.1" r="4.6" fill="#0000FF"/>
<circle cx="391" cy="845.9" r="4.6" fill="#0000FF"/>
<circle cx="501.4" cy="980.6" r="4.6" fill="#0000FF"/>
<circle cx="448.3" cy="844.5" r="4.6" fill="#FF0000"/>
<circle cx="487.6" cy="897.3" r="4.6" fill="#FF0000"/>
<circle cx="485.5" cy="941.6" r="4.6" fill="#FF0000"/>
<circle cx="195.8" cy="970" r="4.6" fill="#00CD00"/>
<circle cx="235.2" cy="971.1" r="4.6" fill="#00CD00"/>
<circle cx="266.8" cy="962.3" r="4.6" fill="#00CD00"/>
<text x="319.2" y="1139.9" font-size="21" font-family="'Liberation Sans', Arial, sans-serif" fill="#000" text-anchor="middle" stroke="#000" stroke-width="0.25">PC1</text>
<text x="646.6" y="959.7" font-size="21" font-family="'Liberation Sans', Arial, sans-serif" fill="#000" text-anchor="middle" transform="rotate(-90 646.6 959.7)" dominant-baseline="central" stroke="#000" stroke-width="0.25">PC2</text>
<text x="77.8" y="946.5" font-size="21" font-family="'Liberation Sans', Arial, sans-serif" fill="#000" text-anchor="middle" transform="rotate(-90 77.8 946.5)" dominant-baseline="central" stroke="#000" stroke-width="0.25">PC3</text>
<clipPath id="c10a"><rect x="600" y="945" width="22.5" height="30"/></clipPath>
<text x="610" y="965" font-size="16.3" font-family="'Liberation Sans', Arial, sans-serif" fill="#000" clip-path="url(#c10a)" stroke="#000" stroke-width="0.25">10</text>
<line x1="783.2" y1="1039.22" x2="1106.3" y2="1039.22" stroke="#c9c9c9" stroke-width="1"/>
<line x1="798.6" y1="1020.15" x2="1121.7" y2="1020.15" stroke="#c9c9c9" stroke-width="1"/>
<line x1="814" y1="1001.07" x2="1137.1" y2="1001.07" stroke="#c9c9c9" stroke-width="1"/>
<line x1="829.4" y1="982" x2="1152.5" y2="982" stroke="#c9c9c9" stroke-width="1"/>
<line x1="844.8" y1="962.92" x2="1167.9" y2="962.92" stroke="#c9c9c9" stroke-width="1"/>
<line x1="860.2" y1="943.85" x2="1183.3" y2="943.85" stroke="#c9c9c9" stroke-width="1"/>
<line x1="875.6" y1="924.77" x2="1198.7" y2="924.77" stroke="#c9c9c9" stroke-width="1"/>
<line x1="813.96" y1="1058.3" x2="937.16" y2="905.7" stroke="#c9c9c9" stroke-width="1"/>
<line x1="860.12" y1="1058.3" x2="983.32" y2="905.7" stroke="#c9c9c9" stroke-width="1"/>
<line x1="906.28" y1="1058.3" x2="1029.48" y2="905.7" stroke="#c9c9c9" stroke-width="1"/>
<line x1="952.44" y1="1058.3" x2="1075.64" y2="905.7" stroke="#c9c9c9" stroke-width="1"/>
<line x1="998.6" y1="1058.3" x2="1121.8" y2="905.7" stroke="#c9c9c9" stroke-width="1"/>
<line x1="1044.76" y1="1058.3" x2="1167.96" y2="905.7" stroke="#c9c9c9" stroke-width="1"/>
<path d="M891 706H1214.1V905.7H891Z M767.8 858.6H1090.9V1058.3H767.8Z M767.8 858.6L891 706 M1090.9 858.6L1214.1 706 M767.8 1058.3L891 905.7 M1090.9 1058.3L1214.1 905.7" fill="none" stroke="#262626" stroke-width="1.5"/>
<line x1="763.3" y1="858.6" x2="770.8" y2="858.6" stroke="#262626" stroke-width="1.5"/>
<text x="750.8" y="858.6" font-size="16.3" font-family="'Liberation Sans', Arial, sans-serif" fill="#000" text-anchor="middle" transform="rotate(-90 750.8 858.6)" dominant-baseline="central" stroke="#000" stroke-width="0.25">8</text>
<line x1="763.3" y1="887.13" x2="770.8" y2="887.13" stroke="#262626" stroke-width="1.5"/>
<text x="750.8" y="887.13" font-size="16.3" font-family="'Liberation Sans', Arial, sans-serif" fill="#000" text-anchor="middle" transform="rotate(-90 750.8 887.13)" dominant-baseline="central" stroke="#000" stroke-width="0.25">6</text>
<line x1="763.3" y1="915.66" x2="770.8" y2="915.66" stroke="#262626" stroke-width="1.5"/>
<text x="750.8" y="915.66" font-size="16.3" font-family="'Liberation Sans', Arial, sans-serif" fill="#000" text-anchor="middle" transform="rotate(-90 750.8 915.66)" dominant-baseline="central" stroke="#000" stroke-width="0.25">4</text>
<line x1="763.3" y1="944.19" x2="770.8" y2="944.19" stroke="#262626" stroke-width="1.5"/>
<text x="750.8" y="944.19" font-size="16.3" font-family="'Liberation Sans', Arial, sans-serif" fill="#000" text-anchor="middle" transform="rotate(-90 750.8 944.19)" dominant-baseline="central" stroke="#000" stroke-width="0.25">2</text>
<line x1="763.3" y1="972.72" x2="770.8" y2="972.72" stroke="#262626" stroke-width="1.5"/>
<text x="750.8" y="972.72" font-size="16.3" font-family="'Liberation Sans', Arial, sans-serif" fill="#000" text-anchor="middle" transform="rotate(-90 750.8 972.72)" dominant-baseline="central" stroke="#000" stroke-width="0.25">0</text>
<line x1="763.3" y1="1001.25" x2="770.8" y2="1001.25" stroke="#262626" stroke-width="1.5"/>
<text x="750.8" y="1001.25" font-size="16.3" font-family="'Liberation Sans', Arial, sans-serif" fill="#000" text-anchor="middle" transform="rotate(-90 750.8 1001.25)" dominant-baseline="central" stroke="#000" stroke-width="0.25">-2</text>
<line x1="763.3" y1="1029.78" x2="770.8" y2="1029.78" stroke="#262626" stroke-width="1.5"/>
<text x="750.8" y="1029.78" font-size="16.3" font-family="'Liberation Sans', Arial, sans-serif" fill="#000" text-anchor="middle" transform="rotate(-90 750.8 1029.78)" dominant-baseline="central" stroke="#000" stroke-width="0.25">-4</text>
<line x1="763.3" y1="1058.31" x2="770.8" y2="1058.31" stroke="#262626" stroke-width="1.5"/>
<text x="750.8" y="1058.31" font-size="16.3" font-family="'Liberation Sans', Arial, sans-serif" fill="#000" text-anchor="middle" transform="rotate(-90 750.8 1058.31)" dominant-baseline="central" stroke="#000" stroke-width="0.25">-6</text>
<line x1="767.8" y1="1055.8" x2="767.8" y2="1061.8" stroke="#262626" stroke-width="1.5"/>
<text x="765.3" y="1081.6" font-size="16.3" font-family="'Liberation Sans', Arial, sans-serif" fill="#000" text-anchor="middle" stroke="#000" stroke-width="0.25">-20</text>
<line x1="813.96" y1="1055.8" x2="813.96" y2="1061.8" stroke="#262626" stroke-width="1.5"/>
<text x="811.46" y="1081.6" font-size="16.3" font-family="'Liberation Sans', Arial, sans-serif" fill="#000" text-anchor="middle" stroke="#000" stroke-width="0.25">-15</text>
<line x1="860.12" y1="1055.8" x2="860.12" y2="1061.8" stroke="#262626" stroke-width="1.5"/>
<text x="857.62" y="1081.6" font-size="16.3" font-family="'Liberation Sans', Arial, sans-serif" fill="#000" text-anchor="middle" stroke="#000" stroke-width="0.25">-10</text>
<line x1="906.28" y1="1055.8" x2="906.28" y2="1061.8" stroke="#262626" stroke-width="1.5"/>
<text x="903.78" y="1081.6" font-size="16.3" font-family="'Liberation Sans', Arial, sans-serif" fill="#000" text-anchor="middle" stroke="#000" stroke-width="0.25">-5</text>
<line x1="952.44" y1="1055.8" x2="952.44" y2="1061.8" stroke="#262626" stroke-width="1.5"/>
<text x="949.94" y="1081.6" font-size="16.3" font-family="'Liberation Sans', Arial, sans-serif" fill="#000" text-anchor="middle" stroke="#000" stroke-width="0.25">0</text>
<line x1="998.6" y1="1055.8" x2="998.6" y2="1061.8" stroke="#262626" stroke-width="1.5"/>
<text x="996.1" y="1081.6" font-size="16.3" font-family="'Liberation Sans', Arial, sans-serif" fill="#000" text-anchor="middle" stroke="#000" stroke-width="0.25">5</text>
<line x1="1044.76" y1="1055.8" x2="1044.76" y2="1061.8" stroke="#262626" stroke-width="1.5"/>
<text x="1042.26" y="1081.6" font-size="16.3" font-family="'Liberation Sans', Arial, sans-serif" fill="#000" text-anchor="middle" stroke="#000" stroke-width="0.25">10</text>
<line x1="1090.92" y1="1055.8" x2="1090.92" y2="1061.8" stroke="#262626" stroke-width="1.5"/>
<text x="1088.42" y="1081.6" font-size="16.3" font-family="'Liberation Sans', Arial, sans-serif" fill="#000" text-anchor="middle" stroke="#000" stroke-width="0.25">15</text>
<line x1="1090.9" y1="1058.3" x2="1095.9" y2="1058.3" stroke="#262626" stroke-width="1.5"/>
<text x="1122.9" y="1064.1" font-size="16.3" font-family="'Liberation Sans', Arial, sans-serif" fill="#000" text-anchor="middle" stroke="#000" stroke-width="0.25">-6</text>
<line x1="1103.3" y1="1039.22" x2="1111.3" y2="1039.22" stroke="#262626" stroke-width="1.5"/>
<text x="1138.3" y="1045.02" font-size="16.3" font-family="'Liberation Sans', Arial, sans-serif" fill="#000" text-anchor="middle" stroke="#000" stroke-width="0.25">-4</text>
<line x1="1118.7" y1="1020.15" x2="1126.7" y2="1020.15" stroke="#262626" stroke-width="1.5"/>
<text x="1153.7" y="1025.95" font-size="16.3" font-family="'Liberation Sans', Arial, sans-serif" fill="#000" text-anchor="middle" stroke="#000" stroke-width="0.25">-2</text>
<line x1="1134.1" y1="1001.07" x2="1142.1" y2="1001.07" stroke="#262626" stroke-width="1.5"/>
<text x="1169.1" y="1006.87" font-size="16.3" font-family="'Liberation Sans', Arial, sans-serif" fill="#000" text-anchor="middle" stroke="#000" stroke-width="0.25">0</text>
<line x1="1149.5" y1="982" x2="1157.5" y2="982" stroke="#262626" stroke-width="1.5"/>
<text x="1184.5" y="987.8" font-size="16.3" font-family="'Liberation Sans', Arial, sans-serif" fill="#000" text-anchor="middle" stroke="#000" stroke-width="0.25">2</text>
<line x1="1164.9" y1="962.92" x2="1172.9" y2="962.92" stroke="#262626" stroke-width="1.5"/>
<text x="1199.9" y="968.72" font-size="16.3" font-family="'Liberation Sans', Arial, sans-serif" fill="#000" text-anchor="middle" stroke="#000" stroke-width="0.25">4</text>
<line x1="1180.3" y1="943.85" x2="1188.3" y2="943.85" stroke="#262626" stroke-width="1.5"/>
<text x="1215.3" y="949.65" font-size="16.3" font-family="'Liberation Sans', Arial, sans-serif" fill="#000" text-anchor="middle" stroke="#000" stroke-width="0.25">6</text>
<line x1="1195.7" y1="924.77" x2="1203.7" y2="924.77" stroke="#262626" stroke-width="1.5"/>
<text x="1230.7" y="930.57" font-size="16.3" font-family="'Liberation Sans', Arial, sans-serif" fill="#000" text-anchor="middle" stroke="#000" stroke-width="0.25">8</text>
<line x1="1214.1" y1="905.7" x2="1219.1" y2="905.7" stroke="#262626" stroke-width="1.5"/>
<rect x="897.9" y="733.7" width="77" height="67.9" fill="#fff" stroke="#262626" stroke-width="1.2"/>
<circle cx="906.6" cy="746" r="2.6" fill="#000000"/>
<text x="916.9" y="750.8" font-size="10.6" font-family="'Liberation Sans', Arial, sans-serif" fill="#1a1a1a" stroke="#1a1a1a" stroke-width="0.3">ALPPS</text>
<circle cx="906.6" cy="760.8" r="2.6" fill="#FF0000"/>
<text x="916.9" y="765.6" font-size="10.6" font-family="'Liberation Sans', Arial, sans-serif" fill="#1a1a1a" stroke="#1a1a1a" stroke-width="0.3">LLLx</text>
<circle cx="906.6" cy="774.2" r="2.6" fill="#00CD00"/>
<text x="916.9" y="779" font-size="10.6" font-family="'Liberation Sans', Arial, sans-serif" fill="#1a1a1a" stroke="#1a1a1a" stroke-width="0.3">PVL</text>
<circle cx="906.6" cy="787.5" r="2.6" fill="#0000FF"/>
<text x="916.9" y="792.3" font-size="10.6" font-family="'Liberation Sans', Arial, sans-serif" fill="#1a1a1a" stroke="#1a1a1a" stroke-width="0.3">Transection</text>
<circle cx="885.6" cy="785.8" r="4.6" fill="#000000"/>
<circle cx="978.7" cy="858.6" r="4.6" fill="#000000"/>
<circle cx="927.8" cy="941.9" r="4.6" fill="#000000"/>
<circle cx="996" cy="908.5" r="4.6" fill="#FF0000"/>
<circle cx="1052.6" cy="920.5" r="4.6" fill="#FF0000"/>
<circle cx="1056.1" cy="931.7" r="4.6" fill="#FF0000"/>
<circle cx="1126.4" cy="845.6" r="4.6" fill="#0000FF"/>
<circle cx="1095.8" cy="901.5" r="4.6" fill="#0000FF"/>
<circle cx="1157" cy="925.7" r="4.6" fill="#0000FF"/>
<circle cx="897.2" cy="980.6" r="4.6" fill="#00CD00"/>
<circle cx="930.9" cy="978.5" r="4.6" fill="#00CD00"/>
<circle cx="867.6" cy="1001.7" r="4.6" fill="#00CD00"/>
<text x="927.2" y="1136.4" font-size="21" font-family="'Liberation Sans', Arial, sans-serif" fill="#000" text-anchor="middle" stroke="#000" stroke-width="0.25">PC1</text>
<text x="1276.6" y="906" font-size="21" font-family="'Liberation Sans', Arial, sans-serif" fill="#000" text-anchor="middle" transform="rotate(-90 1276.6 906)" dominant-baseline="central" stroke="#000" stroke-width="0.25">PC2</text>
<text x="700.8" y="959.7" font-size="21" font-family="'Liberation Sans', Arial, sans-serif" fill="#000" text-anchor="middle" transform="rotate(-90 700.8 959.7)" dominant-baseline="central" stroke="#000" stroke-width="0.25">PC3</text>
<clipPath id="c10b"><rect x="1230" y="892" width="23" height="30"/></clipPath>
<text x="1240.3" y="912.3" font-size="16.3" font-family="'Liberation Sans', Arial, sans-serif" fill="#000" clip-path="url(#c10b)" stroke="#000" stroke-width="0.25">10</text>
<path d="M1552.5 1182V1121 M1749.5 1121V1182" fill="none" stroke="#dcdcdc" stroke-width="1"/>
<path d="M1512.5 1313.5V1184.5H1789.5V1313.5 M1489.5 1313.5H1802.5V1388.5H1789.5V1392.5H1512.5V1388.5H1489.5Z" fill="none" stroke="#e4e4e4" stroke-width="1"/>
<text x="1652" y="1175.2" font-size="48" font-family="'Liberation Sans', Arial, sans-serif" fill="#000" text-anchor="middle">PAS</text>
<path d="M1602 1196.5Q1606.0 1193 1610 1196.5" stroke="#555" stroke-width="1.5" fill="none"/>
<path d="M1630 1196.5Q1633.0 1193 1636 1196.5" stroke="#555" stroke-width="1.5" fill="none"/>
<path d="M1662 1196.5Q1666.0 1193 1670 1196.5" stroke="#555" stroke-width="1.5" fill="none"/>
<path d="M1678 1196.5Q1685.0 1193 1692 1196.5" stroke="#555" stroke-width="1.5" fill="none"/>
<defs><linearGradient id="pas" x1="0" x2="1" y1="0" y2="0"><stop offset="0" stop-color="#053061"/><stop offset="0.1" stop-color="#2166AC"/><stop offset="0.2" stop-color="#4393C3"/><stop offset="0.31" stop-color="#92C5DE"/><stop offset="0.43" stop-color="#D1E5F0"/><stop offset="0.49" stop-color="#E3E3E3"/><stop offset="0.555" stop-color="#FDDBC7"/><stop offset="0.65" stop-color="#F4A582"/><stop offset="0.765" stop-color="#D6604D"/><stop offset="0.88" stop-color="#B2182B"/><stop offset="1" stop-color="#67001F"/></linearGradient></defs>
<rect x="1538.5" y="1201.5" width="231.5" height="70.5" fill="url(#pas)"/>
<path d="M1538.5 1201.5V1272H1770V1201.5" fill="none" stroke="#111" stroke-width="2"/>
<line x1="1538" y1="1201.3" x2="1770.5" y2="1201.3" stroke="#777" stroke-width="1.4"/>
<line x1="1538.7" y1="1272" x2="1538.7" y2="1302" stroke="#111" stroke-width="2.2"/>
<line x1="1596.1" y1="1272" x2="1596.1" y2="1302" stroke="#111" stroke-width="2.2"/>
<line x1="1653.8" y1="1272" x2="1653.8" y2="1302" stroke="#111" stroke-width="2.2"/>
<line x1="1711.2" y1="1272" x2="1711.2" y2="1302" stroke="#111" stroke-width="2.2"/>
<line x1="1769" y1="1272" x2="1769" y2="1302" stroke="#111" stroke-width="2.2"/>
<text x="1528" y="1368" font-size="47" font-family="'Liberation Sans', Arial, sans-serif" fill="#000" text-anchor="middle">-2</text>
<text x="1652" y="1368" font-size="47" font-family="'Liberation Sans', Arial, sans-serif" fill="#000" text-anchor="middle">0</text>
<text x="1768.5" y="1368" font-size="47" font-family="'Liberation Sans', Arial, sans-serif" fill="#000" text-anchor="middle">2</text>
<path d="M281.5 1426.5H1783.5V1483.5" fill="none" stroke="#cfcfcf" stroke-width="1.2"/>
<path d="M281.5 1426.5V1491" fill="none" stroke="#f2f2f2" stroke-width="1"/>
<path d="M75 1800V1622H278.5V1800" fill="none" stroke="#f4f4f4" stroke-width="1"/>
<path d="M45.5 2250V1800.5H318" fill="none" stroke="#efefef" stroke-width="1"/>
<path d="M1783.5 1483.5H2008" fill="none" stroke="#f4f4f4" stroke-width="1"/>
<rect x="318.6" y="1490.8" width="79.5" height="23.8" fill="#DEDFE1"/>
<rect x="397.5" y="1490.8" width="78.5" height="23.8" fill="#DDE0E3"/>
<rect x="475.4" y="1490.8" width="77.2" height="23.8" fill="#DEE0E2"/>
<rect x="552" y="1490.8" width="78.2" height="23.8" fill="#DCE0E4"/>
<rect x="629.6" y="1490.8" width="82.5" height="23.8" fill="#DCE1E5"/>
<rect x="711.5" y="1490.8" width="73.7" height="23.8" fill="#DCE0E4"/>
<rect x="784.6" y="1490.8" width="78.2" height="23.8" fill="#CFE2EE"/>
<rect x="862.2" y="1490.8" width="80.2" height="23.8" fill="#D6E1E9"/>
<rect x="941.8" y="1490.8" width="76.8" height="23.8" fill="#D6E1E9"/>
<rect x="1018" y="1490.8" width="83.2" height="23.8" fill="#D6E2EA"/>
<rect x="1100.6" y="1490.8" width="77.6" height="23.8" fill="#D9E1E7"/>
<rect x="1177.6" y="1490.8" width="75.5" height="23.8" fill="#D5E2EB"/>
<rect x="1252.5" y="1490.8" width="83.1" height="23.8" fill="#CBE1EE"/>
<rect x="1335" y="1490.8" width="79.7" height="23.8" fill="#D0E3EE"/>
<rect x="1414.1" y="1490.8" width="75.8" height="23.8" fill="#CCE2EE"/>
<rect x="318.6" y="1514" width="79.5" height="23" fill="#DFDFE0"/>
<rect x="397.5" y="1514" width="78.5" height="23" fill="#DFDFE0"/>
<rect x="475.4" y="1514" width="77.2" height="23" fill="#E2DFDD"/>
<rect x="552" y="1514" width="78.2" height="23" fill="#DDE0E3"/>
<rect x="629.6" y="1514" width="82.5" height="23" fill="#DDE0E3"/>
<rect x="711.5" y="1514" width="73.7" height="23" fill="#DDE0E3"/>
<rect x="784.6" y="1514" width="78.2" height="23" fill="#D2E2EC"/>
<rect x="862.2" y="1514" width="80.2" height="23" fill="#DCE0E3"/>
<rect x="941.8" y="1514" width="76.8" height="23" fill="#DAE1E6"/>
<rect x="1018" y="1514" width="83.2" height="23" fill="#D6E2EA"/>
<rect x="1100.6" y="1514" width="77.6" height="23" fill="#DBE0E4"/>
<rect x="1177.6" y="1514" width="75.5" height="23" fill="#D6E2EA"/>
<rect x="1252.5" y="1514" width="83.1" height="23" fill="#D2E2EC"/>
<rect x="1335" y="1514" width="79.7" height="23" fill="#D3E3ED"/>
<rect x="1414.1" y="1514" width="75.8" height="23" fill="#D2E3ED"/>
<rect x="318.6" y="1536.4" width="79.5" height="24.4" fill="#E0DFDE"/>
<rect x="397.5" y="1536.4" width="78.5" height="24.4" fill="#E6DDD8"/>
<rect x="475.4" y="1536.4" width="77.2" height="24.4" fill="#E4DEDA"/>
<rect x="552" y="1536.4" width="78.2" height="24.4" fill="#D4E3EE"/>
<rect x="629.6" y="1536.4" width="82.5" height="24.4" fill="#D3E3EE"/>
<rect x="711.5" y="1536.4" width="73.7" height="24.4" fill="#D1E3EF"/>
<rect x="784.6" y="1536.4" width="78.2" height="24.4" fill="#E2DFDE"/>
<rect x="862.2" y="1536.4" width="80.2" height="24.4" fill="#E2DEDC"/>
<rect x="941.8" y="1536.4" width="76.8" height="24.4" fill="#E0DFDF"/>
<rect x="1018" y="1536.4" width="83.2" height="24.4" fill="#D6E2EA"/>
<rect x="1100.6" y="1536.4" width="77.6" height="24.4" fill="#C9E1EE"/>
<rect x="1177.6" y="1536.4" width="75.5" height="24.4" fill="#CFE2EE"/>
<rect x="1252.5" y="1536.4" width="83.1" height="24.4" fill="#D2E2EC"/>
<rect x="1335" y="1536.4" width="79.7" height="24.4" fill="#D3E3ED"/>
<rect x="1414.1" y="1536.4" width="75.8" height="24.4" fill="#C8E0EE"/>
<rect x="318.6" y="1560.2" width="79.5" height="24.4" fill="#E0DEDD"/>
<rect x="397.5" y="1560.2" width="78.5" height="24.4" fill="#DFDFDF"/>
<rect x="475.4" y="1560.2" width="77.2" height="24.4" fill="#DFDFE0"/>
<rect x="552" y="1560.2" width="78.2" height="24.4" fill="#EEDDD4"/>
<rect x="629.6" y="1560.2" width="82.5" height="24.4" fill="#EDDDD5"/>
<rect x="711.5" y="1560.2" width="73.7" height="24.4" fill="#EBDED7"/>
<rect x="784.6" y="1560.2" width="78.2" height="24.4" fill="#DEE0E2"/>
<rect x="862.2" y="1560.2" width="80.2" height="24.4" fill="#DDDFE1"/>
<rect x="941.8" y="1560.2" width="76.8" height="24.4" fill="#DFDFE0"/>
<rect x="1018" y="1560.2" width="83.2" height="24.4" fill="#DEE0E2"/>
<rect x="1100.6" y="1560.2" width="77.6" height="24.4" fill="#DEE0E2"/>
<rect x="1177.6" y="1560.2" width="75.5" height="24.4" fill="#DCE0E3"/>
<rect x="1252.5" y="1560.2" width="83.1" height="24.4" fill="#C6DFEE"/>
<rect x="1335" y="1560.2" width="79.7" height="24.4" fill="#D3E3ED"/>
<rect x="1414.1" y="1560.2" width="75.8" height="24.4" fill="#C8E0EE"/>
<rect x="318.6" y="1584" width="79.5" height="23.1" fill="#F6DBCD"/>
<rect x="397.5" y="1584" width="78.5" height="23.1" fill="#F7DACA"/>
<rect x="475.4" y="1584" width="77.2" height="23.1" fill="#F5DACC"/>
<rect x="552" y="1584" width="78.2" height="23.1" fill="#D8E2EA"/>
<rect x="629.6" y="1584" width="82.5" height="23.1" fill="#C9E0EE"/>
<rect x="711.5" y="1584" width="73.7" height="23.1" fill="#CCE1EE"/>
<rect x="784.6" y="1584" width="78.2" height="23.1" fill="#F8D9C8"/>
<rect x="862.2" y="1584" width="80.2" height="23.1" fill="#F8D9C8"/>
<rect x="941.8" y="1584" width="76.8" height="23.1" fill="#F9D9C7"/>
<rect x="1018" y="1584" width="83.2" height="23.1" fill="#F6DACB"/>
<rect x="1100.6" y="1584" width="77.6" height="23.1" fill="#F8D9C8"/>
<rect x="1177.6" y="1584" width="75.5" height="23.1" fill="#F7DAC9"/>
<rect x="1252.5" y="1584" width="83.1" height="23.1" fill="#D9E1E7"/>
<rect x="1335" y="1584" width="79.7" height="23.1" fill="#DAE1E7"/>
<rect x="1414.1" y="1584" width="75.8" height="23.1" fill="#DDE0E2"/>
<rect x="318.6" y="1606.5" width="79.5" height="14.7" fill="#D6E2EC"/>
<rect x="397.5" y="1606.5" width="78.5" height="14.7" fill="#D6E3EC"/>
<rect x="475.4" y="1606.5" width="77.2" height="14.7" fill="#CFE3EF"/>
<rect x="552" y="1606.5" width="78.2" height="14.7" fill="#B0D5E8"/>
<rect x="629.6" y="1606.5" width="82.5" height="14.7" fill="#AED4E7"/>
<rect x="711.5" y="1606.5" width="73.7" height="14.7" fill="#B0D4E7"/>
<rect x="784.6" y="1606.5" width="78.2" height="14.7" fill="#B4D6E8"/>
<rect x="862.2" y="1606.5" width="80.2" height="14.7" fill="#C4DEEC"/>
<rect x="941.8" y="1606.5" width="76.8" height="14.7" fill="#BADAEA"/>
<rect x="1018" y="1606.5" width="83.2" height="14.7" fill="#B4D6E8"/>
<rect x="1100.6" y="1606.5" width="77.6" height="14.7" fill="#B3D6E8"/>
<rect x="1177.6" y="1606.5" width="75.5" height="14.7" fill="#ADD3E6"/>
<rect x="1252.5" y="1606.5" width="83.1" height="14.7" fill="#A8D0E5"/>
<rect x="1335" y="1606.5" width="79.7" height="14.7" fill="#AED3E7"/>
<rect x="1414.1" y="1606.5" width="75.8" height="14.7" fill="#9DCAE2"/>
<rect x="318.6" y="1625.4" width="79.5" height="35.8" fill="#D86450"/>
<rect x="397.5" y="1625.4" width="78.5" height="35.8" fill="#F4B090"/>
<rect x="475.4" y="1625.4" width="77.2" height="35.8" fill="#E8866A"/>
<rect x="552" y="1625.4" width="78.2" height="35.8" fill="#C94841"/>
<rect x="629.6" y="1625.4" width="82.5" height="35.8" fill="#A31129"/>
<rect x="711.5" y="1625.4" width="73.7" height="35.8" fill="#E8896C"/>
<rect x="784.6" y="1625.4" width="78.2" height="35.8" fill="#D45B4A"/>
<rect x="862.2" y="1625.4" width="80.2" height="35.8" fill="#EC9577"/>
<rect x="941.8" y="1625.4" width="76.8" height="35.8" fill="#E98C70"/>
<rect x="1018" y="1625.4" width="83.2" height="35.8" fill="#C2393B"/>
<rect x="1100.6" y="1625.4" width="77.6" height="35.8" fill="#DA644F"/>
<rect x="1177.6" y="1625.4" width="75.5" height="35.8" fill="#D05544"/>
<rect x="1252.5" y="1625.4" width="83.1" height="35.8" fill="#D45A49"/>
<rect x="1335" y="1625.4" width="79.7" height="35.8" fill="#D45A49"/>
<rect x="1414.1" y="1625.4" width="75.8" height="35.8" fill="#C23439"/>
<rect x="318.6" y="1660.6" width="79.5" height="21.8" fill="#DA6A55"/>
<rect x="397.5" y="1660.6" width="78.5" height="21.8" fill="#EE9C7C"/>
<rect x="475.4" y="1660.6" width="77.2" height="21.8" fill="#DE6E58"/>
<rect x="552" y="1660.6" width="78.2" height="21.8" fill="#C8423E"/>
<rect x="629.6" y="1660.6" width="82.5" height="21.8" fill="#AF1528"/>
<rect x="711.5" y="1660.6" width="73.7" height="21.8" fill="#D95E4C"/>
<rect x="784.6" y="1660.6" width="78.2" height="21.8" fill="#CC4A42"/>
<rect x="862.2" y="1660.6" width="80.2" height="21.8" fill="#E98D71"/>
<rect x="941.8" y="1660.6" width="76.8" height="21.8" fill="#EE9A7A"/>
<rect x="1018" y="1660.6" width="83.2" height="21.8" fill="#B71C2E"/>
<rect x="1100.6" y="1660.6" width="77.6" height="21.8" fill="#C9423E"/>
<rect x="1177.6" y="1660.6" width="75.5" height="21.8" fill="#BE2B33"/>
<rect x="1252.5" y="1660.6" width="83.1" height="21.8" fill="#C63F3D"/>
<rect x="1335" y="1660.6" width="79.7" height="21.8" fill="#C63F3D"/>
<rect x="1414.1" y="1660.6" width="75.8" height="21.8" fill="#8A0B24"/>
<rect x="318.6" y="1681.8" width="79.5" height="24.3" fill="#EC9677"/>
<rect x="397.5" y="1681.8" width="78.5" height="24.3" fill="#F6C4A9"/>
<rect x="475.4" y="1681.8" width="77.2" height="24.3" fill="#F2A98A"/>
<rect x="552" y="1681.8" width="78.2" height="24.3" fill="#E8876B"/>
<rect x="629.6" y="1681.8" width="82.5" height="24.3" fill="#D4584A"/>
<rect x="711.5" y="1681.8" width="73.7" height="24.3" fill="#F3A98A"/>
<rect x="784.6" y="1681.8" width="78.2" height="24.3" fill="#DE6F5A"/>
<rect x="862.2" y="1681.8" width="80.2" height="24.3" fill="#EFA07F"/>
<rect x="941.8" y="1681.8" width="76.8" height="24.3" fill="#EE9C7C"/>
<rect x="1018" y="1681.8" width="83.2" height="24.3" fill="#CE4E44"/>
<rect x="1100.6" y="1681.8" width="77.6" height="24.3" fill="#E07259"/>
<rect x="1177.6" y="1681.8" width="75.5" height="24.3" fill="#D9644F"/>
<rect x="1252.5" y="1681.8" width="83.1" height="24.3" fill="#DF6A55"/>
<rect x="1335" y="1681.8" width="79.7" height="24.3" fill="#DE6C56"/>
<rect x="1414.1" y="1681.8" width="75.8" height="24.3" fill="#D65C4B"/>
<rect x="318.6" y="1705.5" width="79.5" height="96.1" fill="#F4AE8F"/>
<rect x="397.5" y="1705.5" width="78.5" height="96.1" fill="#EB9678"/>
<rect x="475.4" y="1705.5" width="77.2" height="96.1" fill="#E88A6E"/>
<rect x="552" y="1705.5" width="78.2" height="96.1" fill="#F6DCCD"/>
<rect x="629.6" y="1705.5" width="82.5" height="96.1" fill="#F6BFA1"/>
<rect x="711.5" y="1705.5" width="73.7" height="96.1" fill="#F6BCA0"/>
<rect x="784.6" y="1705.5" width="78.2" height="96.1" fill="#D9654F"/>
<rect x="862.2" y="1705.5" width="80.2" height="96.1" fill="#EC9377"/>
<rect x="941.8" y="1705.5" width="76.8" height="96.1" fill="#EC9377"/>
<rect x="1018" y="1705.5" width="83.2" height="96.1" fill="#890A25"/>
<rect x="1100.6" y="1705.5" width="77.6" height="96.1" fill="#9C0F26"/>
<rect x="1177.6" y="1705.5" width="75.5" height="96.1" fill="#6B001F"/>
<rect x="1252.5" y="1705.5" width="83.1" height="96.1" fill="#69001F"/>
<rect x="1335" y="1705.5" width="79.7" height="96.1" fill="#69001F"/>
<rect x="1414.1" y="1705.5" width="75.8" height="96.1" fill="#69001F"/>
<rect x="317" y="1840" width="79.4" height="22.3" fill="#D2E3EE"/>
<rect x="395.8" y="1840" width="78.9" height="22.3" fill="#D9E2E8"/>
<rect x="474.1" y="1840" width="77" height="22.3" fill="#D0E3EE"/>
<rect x="550.5" y="1840" width="80.7" height="22.3" fill="#8CC0DC"/>
<rect x="630.6" y="1840" width="79.2" height="22.3" fill="#7FB8DA"/>
<rect x="709.2" y="1840" width="73.4" height="22.3" fill="#8DC1DD"/>
<rect x="782" y="1840" width="78.8" height="22.3" fill="#65A6CF"/>
<rect x="860.2" y="1840" width="80.6" height="22.3" fill="#77B3D6"/>
<rect x="940.2" y="1840" width="79.7" height="22.3" fill="#80B9DA"/>
<rect x="1019.3" y="1840" width="79.8" height="22.3" fill="#559FCD"/>
<rect x="1098.5" y="1840" width="78.4" height="22.3" fill="#6AAAD2"/>
<rect x="1176.3" y="1840" width="77" height="22.3" fill="#6FADD3"/>
<rect x="1252.7" y="1840" width="77.8" height="22.3" fill="#9BCAE2"/>
<rect x="1329.9" y="1840" width="86.7" height="22.3" fill="#85BCDB"/>
<rect x="1416" y="1840" width="73.1" height="22.3" fill="#5AA2CE"/>
<rect x="317" y="1861.7" width="71.4" height="23.8" fill="#7DB7D9"/>
<rect x="387.8" y="1861.7" width="86.9" height="23.8" fill="#B8D9EA"/>
<rect x="474.1" y="1861.7" width="77" height="23.8" fill="#9BCAE2"/>
<rect x="550.5" y="1861.7" width="80.7" height="23.8" fill="#72AFD5"/>
<rect x="630.6" y="1861.7" width="79.2" height="23.8" fill="#3480BB"/>
<rect x="709.2" y="1861.7" width="73.4" height="23.8" fill="#4392C6"/>
<rect x="782" y="1861.7" width="78.8" height="23.8" fill="#3A87C0"/>
<rect x="860.2" y="1861.7" width="80.6" height="23.8" fill="#6BAAD2"/>
<rect x="940.2" y="1861.7" width="79.7" height="23.8" fill="#72AFD5"/>
<rect x="1019.3" y="1861.7" width="79.8" height="23.8" fill="#073467"/>
<rect x="1098.5" y="1861.7" width="78.4" height="23.8" fill="#3580BB"/>
<rect x="1176.3" y="1861.7" width="77" height="23.8" fill="#164F8E"/>
<rect x="1252.7" y="1861.7" width="77.8" height="23.8" fill="#A9D0E6"/>
<rect x="1329.9" y="1861.7" width="86.7" height="23.8" fill="#5AA2CE"/>
<rect x="1416" y="1861.7" width="73.1" height="23.8" fill="#5AA2CE"/>
<rect x="317" y="1884.9" width="79.4" height="13" fill="#E0E0E0"/>
<rect x="395.8" y="1884.9" width="78.9" height="13" fill="#E0E0E0"/>
<rect x="474.1" y="1884.9" width="77" height="13" fill="#E0E0E0"/>
<rect x="550.5" y="1884.9" width="80.7" height="13" fill="#DDE0E3"/>
<rect x="630.6" y="1884.9" width="79.2" height="13" fill="#DDE0E3"/>
<rect x="709.2" y="1884.9" width="73.4" height="13" fill="#DDE0E3"/>
<rect x="782" y="1884.9" width="78.8" height="13" fill="#DDE1E4"/>
<rect x="860.2" y="1884.9" width="80.6" height="13" fill="#D9E1E7"/>
<rect x="940.2" y="1884.9" width="79.7" height="13" fill="#DCE1E5"/>
<rect x="1019.3" y="1884.9" width="79.8" height="13" fill="#DFE2E4"/>
<rect x="1098.5" y="1884.9" width="78.4" height="13" fill="#D8E2E8"/>
<rect x="1176.3" y="1884.9" width="77" height="13" fill="#DBE2E7"/>
<rect x="1252.7" y="1884.9" width="77.8" height="13" fill="#D1E5F0"/>
<rect x="1329.9" y="1884.9" width="80.4" height="13" fill="#DEE1E3"/>
<rect x="1409.7" y="1884.9" width="79.4" height="13" fill="#DAE3E9"/>
<rect x="317" y="1897.3" width="79.4" height="22.8" fill="#E0E0E0"/>
<rect x="395.8" y="1897.3" width="78.9" height="22.8" fill="#DFE0E1"/>
<rect x="474.1" y="1897.3" width="77" height="22.8" fill="#DFE0E1"/>
<rect x="550.5" y="1897.3" width="80.7" height="22.8" fill="#DDE0E3"/>
<rect x="630.6" y="1897.3" width="79.2" height="22.8" fill="#DDE0E3"/>
<rect x="709.2" y="1897.3" width="73.4" height="22.8" fill="#DDE0E3"/>
<rect x="782" y="1897.3" width="78.8" height="22.8" fill="#E0E0E1"/>
<rect x="860.2" y="1897.3" width="80.6" height="22.8" fill="#DDE0E2"/>
<rect x="940.2" y="1897.3" width="79.7" height="22.8" fill="#DEE0E2"/>
<rect x="1019.3" y="1897.3" width="79.8" height="22.8" fill="#E2E0E0"/>
<rect x="1098.5" y="1897.3" width="78.4" height="22.8" fill="#DBE1E6"/>
<rect x="1176.3" y="1897.3" width="77" height="22.8" fill="#E2E0E0"/>
<rect x="1252.7" y="1897.3" width="77.8" height="22.8" fill="#D1E5F0"/>
<rect x="1329.9" y="1897.3" width="80.4" height="22.8" fill="#DEE1E3"/>
<rect x="1409.7" y="1897.3" width="79.4" height="22.8" fill="#DAE3E9"/>
<rect x="317" y="1919.5" width="79.4" height="23.2" fill="#DEE0E2"/>
<rect x="395.8" y="1919.5" width="78.9" height="23.2" fill="#DEE0E2"/>
<rect x="474.1" y="1919.5" width="77" height="23.2" fill="#DEE0E2"/>
<rect x="550.5" y="1919.5" width="80.7" height="23.2" fill="#D3E4EE"/>
<rect x="630.6" y="1919.5" width="79.2" height="23.2" fill="#D3E4EE"/>
<rect x="709.2" y="1919.5" width="73.4" height="23.2" fill="#D3E4EE"/>
<rect x="782" y="1919.5" width="78.8" height="23.2" fill="#C0DDEC"/>
<rect x="860.2" y="1919.5" width="80.6" height="23.2" fill="#BFDDED"/>
<rect x="940.2" y="1919.5" width="79.7" height="23.2" fill="#C4DFEE"/>
<rect x="1019.3" y="1919.5" width="79.8" height="23.2" fill="#AED5E8"/>
<rect x="1098.5" y="1919.5" width="78.4" height="23.2" fill="#C0DDEC"/>
<rect x="1176.3" y="1919.5" width="77" height="23.2" fill="#A2CDE5"/>
<rect x="1252.7" y="1919.5" width="77.8" height="23.2" fill="#CAE4F0"/>
<rect x="1329.9" y="1919.5" width="80.4" height="23.2" fill="#BBDCEC"/>
<rect x="1409.7" y="1919.5" width="79.4" height="23.2" fill="#B5D9EB"/>
<rect x="317" y="1942.1" width="79.4" height="43.8" fill="#C3393C"/>
<rect x="395.8" y="1942.1" width="78.9" height="43.8" fill="#BC2A34"/>
<rect x="474.1" y="1942.1" width="77" height="43.8" fill="#B41C2D"/>
<rect x="550.5" y="1942.1" width="80.7" height="43.8" fill="#960D27"/>
<rect x="630.6" y="1942.1" width="79.2" height="43.8" fill="#B51B2D"/>
<rect x="709.2" y="1942.1" width="73.4" height="43.8" fill="#D9634F"/>
<rect x="782" y="1942.1" width="78.8" height="43.8" fill="#DA634F"/>
<rect x="860.2" y="1942.1" width="80.6" height="43.8" fill="#E0765F"/>
<rect x="940.2" y="1942.1" width="79.7" height="43.8" fill="#DE6E59"/>
<rect x="1019.3" y="1942.1" width="79.8" height="43.8" fill="#C0303A"/>
<rect x="1098.5" y="1942.1" width="78.4" height="43.8" fill="#CC4A44"/>
<rect x="1176.3" y="1942.1" width="77" height="43.8" fill="#CC4A44"/>
<rect x="1252.7" y="1942.1" width="77.8" height="43.8" fill="#D95E4C"/>
<rect x="1329.9" y="1942.1" width="80.4" height="43.8" fill="#DB6551"/>
<rect x="1409.7" y="1942.1" width="79.4" height="43.8" fill="#BA1F2E"/>
<rect x="317" y="1985.3" width="79.4" height="22.7" fill="#DC6A55"/>
<rect x="395.8" y="1985.3" width="78.9" height="22.7" fill="#CB4A42"/>
<rect x="474.1" y="1985.3" width="77" height="22.7" fill="#D45A4A"/>
<rect x="550.5" y="1985.3" width="80.7" height="22.7" fill="#7C0322"/>
<rect x="630.6" y="1985.3" width="79.2" height="22.7" fill="#850824"/>
<rect x="709.2" y="1985.3" width="73.4" height="22.7" fill="#B3182B"/>
<rect x="782" y="1985.3" width="78.8" height="22.7" fill="#E07560"/>
<rect x="860.2" y="1985.3" width="80.6" height="22.7" fill="#D55B4A"/>
<rect x="940.2" y="1985.3" width="79.7" height="22.7" fill="#DD6A55"/>
<rect x="1019.3" y="1985.3" width="79.8" height="22.7" fill="#B9212F"/>
<rect x="1098.5" y="1985.3" width="78.4" height="22.7" fill="#BF2A35"/>
<rect x="1176.3" y="1985.3" width="77" height="22.7" fill="#BF2A35"/>
<rect x="1252.7" y="1985.3" width="77.8" height="22.7" fill="#BE2934"/>
<rect x="1329.9" y="1985.3" width="80.4" height="22.7" fill="#C63F3E"/>
<rect x="1409.7" y="1985.3" width="79.4" height="22.7" fill="#900B26"/>
<rect x="317" y="2007.4" width="79.4" height="22.5" fill="#E07560"/>
<rect x="395.8" y="2007.4" width="78.9" height="22.5" fill="#DF735E"/>
<rect x="474.1" y="2007.4" width="77" height="22.5" fill="#DC6954"/>
<rect x="550.5" y="2007.4" width="80.7" height="22.5" fill="#CF5146"/>
<rect x="630.6" y="2007.4" width="79.2" height="22.5" fill="#DC6A55"/>
<rect x="709.2" y="2007.4" width="73.4" height="22.5" fill="#EE9A7B"/>
<rect x="782" y="2007.4" width="78.8" height="22.5" fill="#C83F3C"/>
<rect x="860.2" y="2007.4" width="80.6" height="22.5" fill="#DA6550"/>
<rect x="940.2" y="2007.4" width="79.7" height="22.5" fill="#DA6550"/>
<rect x="1019.3" y="2007.4" width="79.8" height="22.5" fill="#CF5246"/>
<rect x="1098.5" y="2007.4" width="78.4" height="22.5" fill="#D96450"/>
<rect x="1176.3" y="2007.4" width="77" height="22.5" fill="#D96450"/>
<rect x="1252.7" y="2007.4" width="77.8" height="22.5" fill="#E07660"/>
<rect x="1329.9" y="2007.4" width="80.4" height="22.5" fill="#E27D64"/>
<rect x="1409.7" y="2007.4" width="79.4" height="22.5" fill="#CC4C44"/>
<rect x="317" y="2029.3" width="79.4" height="22" fill="#F8C4AB"/>
<rect x="395.8" y="2029.3" width="78.9" height="22" fill="#F3AA8A"/>
<rect x="474.1" y="2029.3" width="77" height="22" fill="#F3A586"/>
<rect x="550.5" y="2029.3" width="80.7" height="22" fill="#B71E2F"/>
<rect x="630.6" y="2029.3" width="79.2" height="22" fill="#C53D3C"/>
<rect x="709.2" y="2029.3" width="73.4" height="22" fill="#C3363A"/>
<rect x="782" y="2029.3" width="78.8" height="22" fill="#BF2633"/>
<rect x="860.2" y="2029.3" width="80.6" height="22" fill="#BA2330"/>
<rect x="940.2" y="2029.3" width="79.7" height="22" fill="#AE1728"/>
<rect x="1019.3" y="2029.3" width="79.8" height="22" fill="#C53B3C"/>
<rect x="1098.5" y="2029.3" width="78.4" height="22" fill="#D05446"/>
<rect x="1176.3" y="2029.3" width="77" height="22" fill="#BC2632"/>
<rect x="1252.7" y="2029.3" width="77.8" height="22" fill="#A11127"/>
<rect x="1329.9" y="2029.3" width="80.4" height="22" fill="#7D0423"/>
<rect x="1409.7" y="2029.3" width="79.4" height="22" fill="#7D0423"/>
<rect x="317" y="2050.7" width="79.4" height="90.9" fill="#FADAC7"/>
<rect x="395.8" y="2050.7" width="78.9" height="90.9" fill="#F7C7AE"/>
<rect x="474.1" y="2050.7" width="77" height="90.9" fill="#FADBC8"/>
<rect x="550.5" y="2050.7" width="80.7" height="90.9" fill="#F8CAB2"/>
<rect x="630.6" y="2050.7" width="79.2" height="90.9" fill="#F3AB8B"/>
<rect x="709.2" y="2050.7" width="73.4" height="90.9" fill="#F8C7AE"/>
<rect x="782" y="2050.7" width="78.8" height="90.9" fill="#C83D3C"/>
<rect x="860.2" y="2050.7" width="80.6" height="90.9" fill="#B92331"/>
<rect x="940.2" y="2050.7" width="79.7" height="90.9" fill="#C2363A"/>
<rect x="1019.3" y="2050.7" width="79.8" height="90.9" fill="#7E0323"/>
<rect x="1098.5" y="2050.7" width="78.4" height="90.9" fill="#6C001F"/>
<rect x="1176.3" y="2050.7" width="77" height="90.9" fill="#6C001F"/>
<rect x="1252.7" y="2050.7" width="77.8" height="90.9" fill="#6A001F"/>
<rect x="1329.9" y="2050.7" width="80.4" height="90.9" fill="#6A001F"/>
<rect x="1409.7" y="2050.7" width="79.4" height="90.9" fill="#6A001F"/>
<rect x="317" y="2141" width="79.4" height="22.1" fill="#920C26"/>
<rect x="395.8" y="2141" width="78.9" height="22.1" fill="#CF5146"/>
<rect x="474.1" y="2141" width="77" height="22.1" fill="#DD6B56"/>
<rect x="550.5" y="2141" width="80.7" height="22.1" fill="#C2363A"/>
<rect x="630.6" y="2141" width="79.2" height="22.1" fill="#6A001F"/>
<rect x="709.2" y="2141" width="73.4" height="22.1" fill="#6A001F"/>
<rect x="782" y="2141" width="78.8" height="22.1" fill="#67001F"/>
<rect x="860.2" y="2141" width="80.6" height="22.1" fill="#67001F"/>
<rect x="940.2" y="2141" width="79.7" height="22.1" fill="#67001F"/>
<rect x="1019.3" y="2141" width="79.8" height="22.1" fill="#67001F"/>
<rect x="1098.5" y="2141" width="78.4" height="22.1" fill="#67001F"/>
<rect x="1176.3" y="2141" width="77" height="22.1" fill="#67001F"/>
<rect x="1252.7" y="2141" width="77.8" height="22.1" fill="#67001F"/>
<rect x="1329.9" y="2141" width="80.4" height="22.1" fill="#67001F"/>
<rect x="1409.7" y="2141" width="79.4" height="22.1" fill="#67001F"/>
<line x1="318.6" y1="1491.3" x2="1489.3" y2="1491.3" stroke="#BDB8C6" stroke-width="1.1"/>
<rect x="1252.7" y="1882.2" width="236" height="2.4" fill="#F4CDB6"/>
<line x1="552" y1="1490.8" x2="552" y2="1620.6" stroke="#0a0a0a" stroke-width="2.4"/>
<line x1="552.8" y1="1625.4" x2="552.8" y2="1801" stroke="#0a0a0a" stroke-width="2.4"/>
<line x1="784.8" y1="1490.8" x2="784.8" y2="1620.6" stroke="#0a0a0a" stroke-width="2.4"/>
<line x1="785.6" y1="1625.4" x2="785.6" y2="1801" stroke="#0a0a0a" stroke-width="2.4"/>
<line x1="1018.3" y1="1490.8" x2="1018.3" y2="1620.6" stroke="#0a0a0a" stroke-width="2.4"/>
<line x1="1019.1" y1="1625.4" x2="1019.1" y2="1801" stroke="#0a0a0a" stroke-width="2.4"/>
<line x1="1252.6" y1="1490.8" x2="1252.6" y2="1620.6" stroke="#0a0a0a" stroke-width="2.4"/>
<line x1="1253.4" y1="1625.4" x2="1253.4" y2="1801" stroke="#0a0a0a" stroke-width="2.4"/>
<line x1="550.6" y1="1840" x2="552.1" y2="2162.5" stroke="#0a0a0a" stroke-width="2.2"/>
<line x1="782.2" y1="1840" x2="783.7" y2="2162.5" stroke="#0a0a0a" stroke-width="2.2"/>
<line x1="1019.5" y1="1840" x2="1021" y2="2162.5" stroke="#0a0a0a" stroke-width="2.2"/>
<line x1="1252.9" y1="1840" x2="1254.4" y2="2162.5" stroke="#0a0a0a" stroke-width="2.2"/>
<text x="1509" y="1511.4" font-size="17.2" font-family="'Liberation Sans', Arial, sans-serif" fill="#1e1e1e" textLength="309.5" lengthAdjust="spacingAndGlyphs">Mitochondrial Apoptosis Main Pathway</text>
<text x="1509" y="1533.8" font-size="17.2" font-family="'Liberation Sans', Arial, sans-serif" fill="#1e1e1e" textLength="266.5" lengthAdjust="spacingAndGlyphs">Caspase Cascade Main Pathway</text>
<text x="1509" y="1554.9" font-size="17.2" font-family="'Liberation Sans', Arial, sans-serif" fill="#1e1e1e" textLength="178.4" lengthAdjust="spacingAndGlyphs">BRCA1 Main Pathway</text>
<text x="1509" y="1577.3" font-size="17.2" font-family="'Liberation Sans', Arial, sans-serif" fill="#1e1e1e" textLength="363.6" lengthAdjust="spacingAndGlyphs">cAMP (Degradation of Cell Cycle Regulators)</text>
<text x="1509" y="1598.5" font-size="17.2" font-family="'Liberation Sans', Arial, sans-serif" fill="#1e1e1e" textLength="208.4" lengthAdjust="spacingAndGlyphs">AKT Pathway (Cell Cycle)</text>
<text x="1509" y="1620.1" font-size="17.2" font-family="'Liberation Sans', Arial, sans-serif" fill="#1e1e1e" textLength="255.4" lengthAdjust="spacingAndGlyphs">JNK Pathway (Insulin Signaling)</text>
<text x="1509" y="1642" font-size="17.2" font-family="'Liberation Sans', Arial, sans-serif" fill="#1e1e1e" textLength="325.3" lengthAdjust="spacingAndGlyphs">TGF beta Pathway (Tumor suppression)</text>
<text x="1509" y="1663.9" font-size="17.2" font-family="'Liberation Sans', Arial, sans-serif" fill="#1e1e1e" textLength="289.2" lengthAdjust="spacingAndGlyphs">TGF beta Pathway (Tumorigenesis)</text>
<text x="1509" y="1685.5" font-size="17.2" font-family="'Liberation Sans', Arial, sans-serif" fill="#1e1e1e" textLength="311.3" lengthAdjust="spacingAndGlyphs">HGF Pathway (Cell Cycle progression)</text>
<text x="1509" y="1707.4" font-size="17.2" font-family="'Liberation Sans', Arial, sans-serif" fill="#1e1e1e" textLength="316.6" lengthAdjust="spacingAndGlyphs">TGF beta Pathway (SnON degradation)</text>
<text x="1509" y="1728.3" font-size="17.2" font-family="'Liberation Sans', Arial, sans-serif" fill="#1e1e1e" textLength="196.8" lengthAdjust="spacingAndGlyphs">Hypoxia Pathway EMT 2</text>
<text x="1509" y="1750.2" font-size="17.2" font-family="'Liberation Sans', Arial, sans-serif" fill="#1e1e1e" textLength="195.3" lengthAdjust="spacingAndGlyphs">Hypoxia Pathway EMT 1</text>
<text x="1509" y="1771.3" font-size="17.2" font-family="'Liberation Sans', Arial, sans-serif" fill="#1e1e1e" textLength="196.8" lengthAdjust="spacingAndGlyphs">Hypoxia Pathway EMT 3</text>
<text x="1509" y="1793.2" font-size="17.2" font-family="'Liberation Sans', Arial, sans-serif" fill="#1e1e1e" textLength="196.8" lengthAdjust="spacingAndGlyphs">Hypoxia Pathway EMT 4</text>
<text x="1509" y="1858.1" font-size="17.2" font-family="'Liberation Sans', Arial, sans-serif" fill="#1e1e1e" textLength="252.2" lengthAdjust="spacingAndGlyphs">JNK pathway (Insulin signaling)</text>
<text x="1509" y="1880" font-size="17.2" font-family="'Liberation Sans', Arial, sans-serif" fill="#1e1e1e" textLength="275.1" lengthAdjust="spacingAndGlyphs">Interferon Pathway (Transcription)</text>
<text x="1509" y="1901.4" font-size="17.2" font-family="'Liberation Sans', Arial, sans-serif" fill="#1e1e1e" textLength="309.6" lengthAdjust="spacingAndGlyphs">Mitochondrial Apoptosis Main Pathway</text>
<text x="1509" y="1923.3" font-size="17.2" font-family="'Liberation Sans', Arial, sans-serif" fill="#1e1e1e" textLength="266.1" lengthAdjust="spacingAndGlyphs">Caspase Cascade Main Pathway</text>
<text x="1509" y="1944.7" font-size="17.2" font-family="'Liberation Sans', Arial, sans-serif" fill="#1e1e1e" textLength="177.8" lengthAdjust="spacingAndGlyphs">BRCA1 Main Pathway</text>
<text x="1509" y="1966.8" font-size="17.2" font-family="'Liberation Sans', Arial, sans-serif" fill="#1e1e1e" textLength="325" lengthAdjust="spacingAndGlyphs">TGF beta Pathway (Tumor suppression)</text>
<text x="1509" y="1988.2" font-size="17.2" font-family="'Liberation Sans', Arial, sans-serif" fill="#1e1e1e" textLength="289" lengthAdjust="spacingAndGlyphs">TGF beta Pathway (Tumorigenesis)</text>
<text x="1509" y="2010.3" font-size="17.2" font-family="'Liberation Sans', Arial, sans-serif" fill="#1e1e1e" textLength="311.1" lengthAdjust="spacingAndGlyphs">HGF Pathway (Cell Cycle progression)</text>
<text x="1509" y="2031.7" font-size="17.2" font-family="'Liberation Sans', Arial, sans-serif" fill="#1e1e1e" textLength="315.8" lengthAdjust="spacingAndGlyphs">TGF beta Pathway (SnON degradation)</text>
<text x="1509" y="2054" font-size="17.2" font-family="'Liberation Sans', Arial, sans-serif" fill="#1e1e1e" textLength="328.7" lengthAdjust="spacingAndGlyphs">ATM Pathway (G2_M Checkpoint Arrest)</text>
<text x="1509" y="2074.6" font-size="17.2" font-family="'Liberation Sans', Arial, sans-serif" fill="#1e1e1e" textLength="196.5" lengthAdjust="spacingAndGlyphs">Hypoxia Pathway EMT 2</text>
<text x="1509" y="2096.8" font-size="17.2" font-family="'Liberation Sans', Arial, sans-serif" fill="#1e1e1e" textLength="195" lengthAdjust="spacingAndGlyphs">Hypoxia Pathway EMT 1</text>
<text x="1509" y="2118.3" font-size="17.2" font-family="'Liberation Sans', Arial, sans-serif" fill="#1e1e1e" textLength="196.5" lengthAdjust="spacingAndGlyphs">Hypoxia Pathway EMT 3</text>
<text x="1509" y="2139.7" font-size="17.2" font-family="'Liberation Sans', Arial, sans-serif" fill="#1e1e1e" textLength="196.5" lengthAdjust="spacingAndGlyphs">Hypoxia Pathway EMT 4</text>
<text x="1509" y="2161.1" font-size="17.2" font-family="'Liberation Sans', Arial, sans-serif" fill="#1e1e1e" textLength="313.7" lengthAdjust="spacingAndGlyphs">IL-10 Pathway (Stability Determination)</text>
<rect x="1500" y="2163" width="400" height="8" fill="#fff"/>
<text x="94" y="1690.2" font-size="62" font-family="Carlito, 'Liberation Sans', sans-serif" fill="#000" textLength="92.98" lengthAdjust="spacingAndGlyphs">PVL</text>
<text x="95" y="2062.5" font-size="62" font-family="Carlito, 'Liberation Sans', sans-serif" fill="#000" textLength="154.5" lengthAdjust="spacingAndGlyphs">ALPPS</text>
<text x="433.5" y="2218" font-size="47" font-family="'Liberation Sans', Arial, sans-serif" fill="#000" text-anchor="middle">0.5h</text>
<text x="672.5" y="2218" font-size="47" font-family="'Liberation Sans', Arial, sans-serif" fill="#000" text-anchor="middle">1h</text>
<text x="904.5" y="2218" font-size="47" font-family="'Liberation Sans', Arial, sans-serif" fill="#000" text-anchor="middle">4h</text>
<text x="1137.5" y="2218" font-size="47" font-family="'Liberation Sans', Arial, sans-serif" fill="#000" text-anchor="middle">8h</text>
<text x="1370.8" y="2218" font-size="47" font-family="'Liberation Sans', Arial, sans-serif" fill="#000" text-anchor="middle">12h</text>
</svg></body></html>
